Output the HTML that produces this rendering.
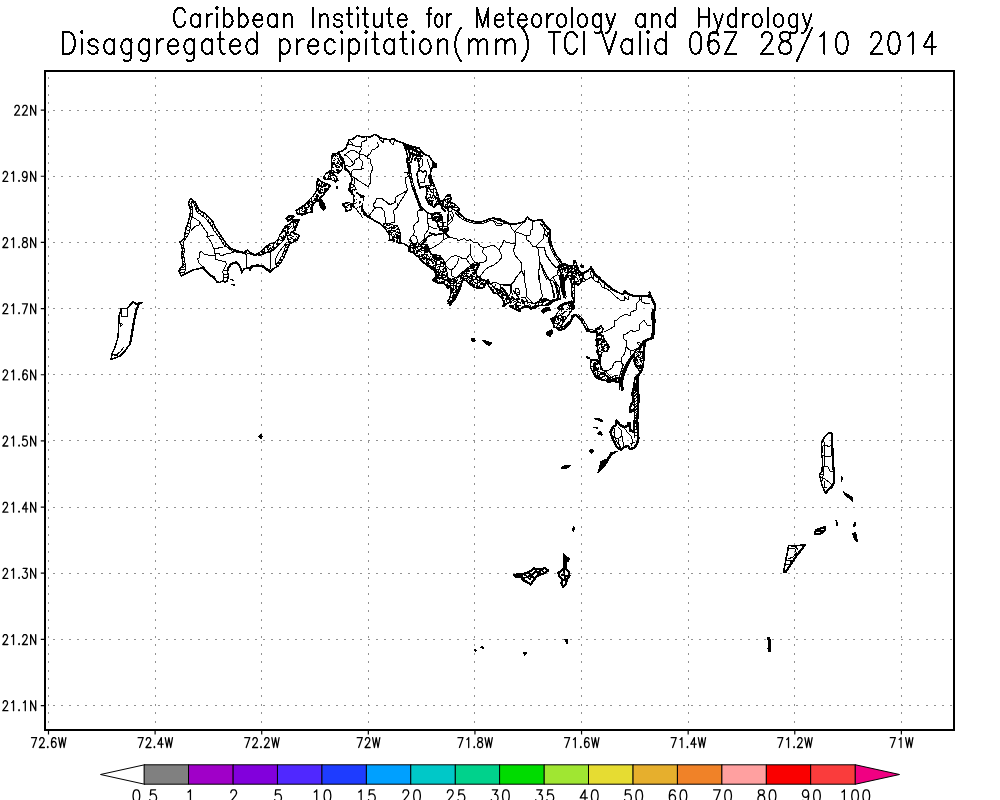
<!DOCTYPE html>
<html><head><meta charset="utf-8"><title>Disaggregated precipitation TCI</title>
<style>
html,body{margin:0;padding:0;background:#fff;font-family:"Liberation Sans",sans-serif;}
svg{display:block}
path,rect{fill:none;stroke:#000;stroke-linecap:round;stroke-linejoin:round}
.t1{stroke-width:2;shape-rendering:crispEdges}
.t2{stroke-width:2;shape-rendering:crispEdges}
.gh{stroke:#929292;stroke-width:1;stroke-linecap:butt;stroke-dasharray:2 6.08;shape-rendering:crispEdges}
.gv{stroke:#929292;stroke-width:1;stroke-linecap:butt;stroke-dasharray:2 6.47;shape-rendering:crispEdges}
.frame{stroke-width:2;stroke-linejoin:miter;shape-rendering:crispEdges}
.tick{stroke-width:1.2;stroke-linecap:butt}
.lab{stroke-width:1.3}
.cl{stroke-width:1.3}
.cbl{stroke-width:1}
.a,.b,.c,.d,.f{shape-rendering:crispEdges}
.a{stroke-width:1.5}
.c{stroke-width:1.6}
.d{stroke-width:2.3}
.f{stroke-width:1;fill:#000}
.w{stroke:none;fill:#fff;shape-rendering:crispEdges}
.b{stroke-width:1}
</style></head>
<body>
<svg width="1000" height="800" viewBox="0 0 1000 800">
<rect x="0" y="0" width="1000" height="800" style="fill:#fff;stroke:none"/>
<path d="M185.08 12.42 L184.34 10.61 L182.86 8.8 L181.39 7.89 L178.43 7.89 L176.95 8.8 L175.48 10.61 L174.74 12.42 L174 15.13 L174 19.66 L174.74 22.38 L175.48 24.18 L176.95 25.99 L178.43 26.9 L181.39 26.9 L182.86 25.99 L184.34 24.18 L185.08 22.38M199.66 14.23 L199.66 26.9M199.66 24.18 L198.18 25.99 L196.71 26.9 L194.49 26.9 L193.01 25.99 L191.54 24.18 L190.8 21.47 L190.8 19.66 L191.54 16.95 L193.01 15.13 L194.49 14.23 L196.71 14.23 L198.18 15.13 L199.66 16.95M206.6 14.23 L206.6 26.9M206.6 19.66 L207.34 16.95 L208.82 15.13 L210.29 14.23 L212.51 14.23M216.88 14.23 L216.88 26.9M216.88 8.8 L216.14 7.89 L216.88 6.99 L217.62 7.89 L216.88 8.8M223.65 7.89 L223.65 26.9M223.65 16.95 L225.13 15.13 L226.61 14.23 L228.82 14.23 L230.3 15.13 L231.78 16.95 L232.52 19.66 L232.52 21.47 L231.78 24.18 L230.3 25.99 L228.82 26.9 L226.61 26.9 L225.13 25.99 L223.65 24.18M238.91 7.89 L238.91 26.9M238.91 16.95 L240.39 15.13 L241.86 14.23 L244.08 14.23 L245.56 15.13 L247.04 16.95 L247.77 19.66 L247.77 21.47 L247.04 24.18 L245.56 25.99 L244.08 26.9 L241.86 26.9 L240.39 25.99 L238.91 24.18M260.78 15.13 L259.3 14.23 L257.09 14.23 L255.61 15.13 L254.13 16.95 L253.39 19.66 L262.26 19.66 L262.26 17.85 L261.52 16.04 L260.78 15.13M253.39 19.66 L253.39 21.47 L254.13 24.18 L255.61 25.99 L257.09 26.9 L259.3 26.9 L260.78 25.99 L262.26 24.18M276.74 14.23 L276.74 26.9M276.74 24.18 L275.27 25.99 L273.79 26.9 L271.57 26.9 L270.1 25.99 L268.62 24.18 L267.88 21.47 L267.88 19.66 L268.62 16.95 L270.1 15.13 L271.57 14.23 L273.79 14.23 L275.27 15.13 L276.74 16.95M283.87 14.23 L283.87 26.9M283.87 17.85 L286.09 15.13 L287.57 14.23 L289.78 14.23 L291.26 15.13 L292 17.85 L292 26.9M313 7.89 L313 26.9M319.71 14.23 L319.71 26.9M319.71 17.85 L321.91 15.13 L323.37 14.23 L325.57 14.23 L327.03 15.13 L327.77 17.85 L327.77 26.9M342.09 16.95 L341.36 15.13 L339.16 14.23 L336.96 14.23 L334.77 15.13 L334.04 16.95 L334.77 18.75 L336.23 19.66 L339.89 20.56 L341.36 21.47 L342.09 23.28 L342.09 24.18 L341.36 25.99 L339.16 26.9 L336.96 26.9 L334.77 25.99 L334.04 24.18M348.87 7.89 L348.87 23.28 L349.6 25.99 L351.06 26.9 L352.53 26.9M346.67 14.23 L351.79 14.23M357.55 14.23 L357.55 26.9M357.55 8.8 L356.82 7.89 L357.55 6.99 L358.29 7.89 L357.55 8.8M364.78 7.89 L364.78 23.28 L365.51 25.99 L366.97 26.9 L368.44 26.9M362.58 14.23 L367.71 14.23M381.87 14.23 L381.87 26.9M373.82 14.23 L373.82 23.28 L374.55 25.99 L376.01 26.9 L378.21 26.9 L379.67 25.99 L381.87 23.28M389.44 7.89 L389.44 23.28 L390.17 25.99 L391.64 26.9 L393.1 26.9M387.25 14.23 L392.37 14.23M405.04 15.13 L403.57 14.23 L401.38 14.23 L399.91 15.13 L398.45 16.95 L397.72 19.66 L406.5 19.66 L406.5 17.85 L405.77 16.04 L405.04 15.13M397.72 19.66 L397.72 21.47 L398.45 24.18 L399.91 25.99 L401.38 26.9 L403.57 26.9 L405.04 25.99 L406.5 24.18M431.48 7.89 L430.36 7.89 L429.24 8.8 L428.68 11.51 L428.68 26.9M427 14.23 L430.92 14.23M441.76 24.18 L440.64 25.99 L439.52 26.9 L437.84 26.9 L436.72 25.99 L435.6 24.18 L435.04 21.47 L435.04 19.66 L435.6 16.95 L436.72 15.13 L437.84 14.23 L439.52 14.23 L440.64 15.13 L441.76 16.95 L442.32 19.66 L442.32 21.47 L441.76 24.18M447.02 14.23 L447.02 26.9M447.02 19.66 L447.58 16.95 L448.7 15.13 L449.82 14.23 L451.5 14.23M477 26.9 L477 7.89 L482.71 26.9 L488.42 7.89 L488.42 26.9M501.86 15.13 L500.43 14.23 L498.29 14.23 L496.86 15.13 L495.43 16.95 L494.72 19.66 L503.28 19.66 L503.28 17.85 L502.57 16.04 L501.86 15.13M494.72 19.66 L494.72 21.47 L495.43 24.18 L496.86 25.99 L498.29 26.9 L500.43 26.9 L501.86 25.99 L503.28 24.18M509.93 7.89 L509.93 23.28 L510.64 25.99 L512.07 26.9 L513.49 26.9M507.78 14.23 L512.78 14.23M525.13 15.13 L523.7 14.23 L521.56 14.23 L520.13 15.13 L518.71 16.95 L517.99 19.66 L526.56 19.66 L526.56 17.85 L525.84 16.04 L525.13 15.13M517.99 19.66 L517.99 21.47 L518.71 24.18 L520.13 25.99 L521.56 26.9 L523.7 26.9 L525.13 25.99 L526.56 24.18M540.55 24.18 L539.13 25.99 L537.7 26.9 L535.56 26.9 L534.13 25.99 L532.7 24.18 L531.99 21.47 L531.99 19.66 L532.7 16.95 L534.13 15.13 L535.56 14.23 L537.7 14.23 L539.13 15.13 L540.55 16.95 L541.27 19.66 L541.27 21.47 L540.55 24.18M547.26 14.23 L547.26 26.9M547.26 19.66 L547.97 16.95 L549.4 15.13 L550.83 14.23 L552.97 14.23M565.38 24.18 L563.95 25.99 L562.52 26.9 L560.38 26.9 L558.96 25.99 L557.53 24.18 L556.81 21.47 L556.81 19.66 L557.53 16.95 L558.96 15.13 L560.38 14.23 L562.52 14.23 L563.95 15.13 L565.38 16.95 L566.09 19.66 L566.09 21.47 L565.38 24.18M571.93 7.89 L571.93 26.9M586.33 24.18 L584.9 25.99 L583.47 26.9 L581.33 26.9 L579.9 25.99 L578.48 24.18 L577.76 21.47 L577.76 19.66 L578.48 16.95 L579.9 15.13 L581.33 14.23 L583.47 14.23 L584.9 15.13 L586.33 16.95 L587.04 19.66 L587.04 21.47 L586.33 24.18M601.07 14.23 L601.07 28.71 L600.35 31.42 L599.64 32.33 L598.21 33.23 L596.07 33.23 L594.64 32.33M601.07 24.18 L599.64 25.99 L598.21 26.9 L596.07 26.9 L594.64 25.99 L593.22 24.18 L592.5 21.47 L592.5 19.66 L593.22 16.95 L594.64 15.13 L596.07 14.23 L598.21 14.23 L599.64 15.13 L601.07 16.95M606.44 14.23 L610.72 26.9 L615 14.23M605.72 33.23 L606.44 33.23 L607.86 32.33 L609.29 30.52 L610.72 26.9M644.78 14.23 L644.78 26.9M644.78 24.18 L643.32 25.99 L641.85 26.9 L639.66 26.9 L638.19 25.99 L636.73 24.18 L636 21.47 L636 19.66 L636.73 16.95 L638.19 15.13 L639.66 14.23 L641.85 14.23 L643.32 15.13 L644.78 16.95M651.84 14.23 L651.84 26.9M651.84 17.85 L654.04 15.13 L655.5 14.23 L657.69 14.23 L659.16 15.13 L659.89 17.85 L659.89 26.9M675 7.89 L675 26.9M675 24.18 L673.54 25.99 L672.07 26.9 L669.88 26.9 L668.42 25.99 L666.95 24.18 L666.22 21.47 L666.22 19.66 L666.95 16.95 L668.42 15.13 L669.88 14.23 L672.07 14.23 L673.54 15.13 L675 16.95M698.5 7.89 L698.5 26.9M708.61 7.89 L708.61 26.9M698.5 16.95 L708.61 16.95M714.14 14.23 L718.47 26.9 L722.8 14.23M713.41 33.23 L714.14 33.23 L715.58 32.33 L717.02 30.52 L718.47 26.9M736.18 7.89 L736.18 26.9M736.18 24.18 L734.73 25.99 L733.29 26.9 L731.12 26.9 L729.68 25.99 L728.23 24.18 L727.51 21.47 L727.51 19.66 L728.23 16.95 L729.68 15.13 L731.12 14.23 L733.29 14.23 L734.73 15.13 L736.18 16.95M742.96 14.23 L742.96 26.9M742.96 19.66 L743.68 16.95 L745.13 15.13 L746.57 14.23 L748.74 14.23M761.3 24.18 L759.85 25.99 L758.41 26.9 L756.24 26.9 L754.8 25.99 L753.35 24.18 L752.63 21.47 L752.63 19.66 L753.35 16.95 L754.8 15.13 L756.24 14.23 L758.41 14.23 L759.85 15.13 L761.3 16.95 L762.02 19.66 L762.02 21.47 L761.3 24.18M767.92 7.89 L767.92 26.9M782.49 24.18 L781.04 25.99 L779.6 26.9 L777.43 26.9 L775.99 25.99 L774.55 24.18 L773.82 21.47 L773.82 19.66 L774.55 16.95 L775.99 15.13 L777.43 14.23 L779.6 14.23 L781.04 15.13 L782.49 16.95 L783.21 19.66 L783.21 21.47 L782.49 24.18M797.4 14.23 L797.4 28.71 L796.68 31.42 L795.96 32.33 L794.51 33.23 L792.35 33.23 L790.9 32.33M797.4 24.18 L795.96 25.99 L794.51 26.9 L792.35 26.9 L790.9 25.99 L789.46 24.18 L788.74 21.47 L788.74 19.66 L789.46 16.95 L790.9 15.13 L792.35 14.23 L794.51 14.23 L795.96 15.13 L797.4 16.95M802.83 14.23 L807.17 26.9 L811.5 14.23M802.11 33.23 L802.83 33.23 L804.28 32.33 L805.72 30.52 L807.17 26.9" class="t1"/>
<path d="M74.75 40.37 L73.91 37.27 L73.07 35.21 L71.4 33.14 L68.88 32.11 L63 32.11 L63 53.8 L68.88 53.8 L71.4 52.77 L73.07 50.7 L73.91 48.63 L74.75 45.54 L74.75 40.37M81.69 39.34 L81.69 53.8M81.69 33.14 L80.85 32.11 L81.69 31.07 L82.53 32.11 L81.69 33.14M97.71 42.44 L96.87 40.37 L94.36 39.34 L91.84 39.34 L89.32 40.37 L88.48 42.44 L89.32 44.5 L91 45.54 L95.2 46.57 L96.87 47.6 L97.71 49.67 L97.71 50.7 L96.87 52.77 L94.36 53.8 L91.84 53.8 L89.32 52.77 L88.48 50.7M114.14 39.34 L114.14 53.8M114.14 50.7 L112.46 52.77 L110.78 53.8 L108.26 53.8 L106.58 52.77 L104.9 50.7 L104.07 47.6 L104.07 45.54 L104.9 42.44 L106.58 40.37 L108.26 39.34 L110.78 39.34 L112.46 40.37 L114.14 42.44M131.48 39.34 L131.48 55.87 L130.64 58.96 L129.8 60 L128.12 61.03 L125.6 61.03 L123.92 60M131.48 50.7 L129.8 52.77 L128.12 53.8 L125.6 53.8 L123.92 52.77 L122.24 50.7 L121.4 47.6 L121.4 45.54 L122.24 42.44 L123.92 40.37 L125.6 39.34 L128.12 39.34 L129.8 40.37 L131.48 42.44M148.82 39.34 L148.82 55.87 L147.98 58.96 L147.14 60 L145.46 61.03 L142.94 61.03 L141.26 60M148.82 50.7 L147.14 52.77 L145.46 53.8 L142.94 53.8 L141.26 52.77 L139.58 50.7 L138.74 47.6 L138.74 45.54 L139.58 42.44 L141.26 40.37 L142.94 39.34 L145.46 39.34 L147.14 40.37 L148.82 42.44M156.7 39.34 L156.7 53.8M156.7 45.54 L157.54 42.44 L159.22 40.37 L160.9 39.34 L163.42 39.34M176.3 40.37 L174.62 39.34 L172.11 39.34 L170.43 40.37 L168.75 42.44 L167.91 45.54 L177.98 45.54 L177.98 43.47 L177.14 41.4 L176.3 40.37M167.91 45.54 L167.91 47.6 L168.75 50.7 L170.43 52.77 L172.11 53.8 L174.62 53.8 L176.3 52.77 L177.98 50.7M194.45 39.34 L194.45 55.87 L193.61 58.96 L192.77 60 L191.09 61.03 L188.57 61.03 L186.89 60M194.45 50.7 L192.77 52.77 L191.09 53.8 L188.57 53.8 L186.89 52.77 L185.21 50.7 L184.37 47.6 L184.37 45.54 L185.21 42.44 L186.89 40.37 L188.57 39.34 L191.09 39.34 L192.77 40.37 L194.45 42.44M211.78 39.34 L211.78 53.8M211.78 50.7 L210.11 52.77 L208.43 53.8 L205.91 53.8 L204.23 52.77 L202.55 50.7 L201.71 47.6 L201.71 45.54 L202.55 42.44 L204.23 40.37 L205.91 39.34 L208.43 39.34 L210.11 40.37 L211.78 42.44M220.47 32.11 L220.47 49.67 L221.31 52.77 L222.99 53.8 L224.67 53.8M217.95 39.34 L223.83 39.34M238.36 40.37 L236.68 39.34 L234.16 39.34 L232.48 40.37 L230.8 42.44 L229.96 45.54 L240.04 45.54 L240.04 43.47 L239.2 41.4 L238.36 40.37M229.96 45.54 L229.96 47.6 L230.8 50.7 L232.48 52.77 L234.16 53.8 L236.68 53.8 L238.36 52.77 L240.04 50.7M256.5 32.11 L256.5 53.8M256.5 50.7 L254.82 52.77 L253.14 53.8 L250.62 53.8 L248.94 52.77 L247.26 50.7 L246.43 47.6 L246.43 45.54 L247.26 42.44 L248.94 40.37 L250.62 39.34 L253.14 39.34 L254.82 40.37 L256.5 42.44M279.75 39.34 L279.75 61.03M279.75 42.44 L281.43 40.37 L283.12 39.34 L285.64 39.34 L287.33 40.37 L289.01 42.44 L289.85 45.54 L289.85 47.6 L289.01 50.7 L287.33 52.77 L285.64 53.8 L283.12 53.8 L281.43 52.77 L279.75 50.7M296.91 39.34 L296.91 53.8M296.91 45.54 L297.76 42.44 L299.44 40.37 L301.12 39.34 L303.65 39.34M316.57 40.37 L314.88 39.34 L312.36 39.34 L310.68 40.37 L308.99 42.44 L308.15 45.54 L318.25 45.54 L318.25 43.47 L317.41 41.4 L316.57 40.37M308.15 45.54 L308.15 47.6 L308.99 50.7 L310.68 52.77 L312.36 53.8 L314.88 53.8 L316.57 52.77 L318.25 50.7M334.72 50.7 L333.04 52.77 L331.35 53.8 L328.83 53.8 L327.15 52.77 L325.46 50.7 L324.62 47.6 L324.62 45.54 L325.46 42.44 L327.15 40.37 L328.83 39.34 L331.35 39.34 L333.04 40.37 L334.72 42.44M341.57 39.34 L341.57 53.8M341.57 33.14 L340.72 32.11 L341.57 31.07 L342.41 32.11 L341.57 33.14M349.29 39.34 L349.29 61.03M349.29 42.44 L350.97 40.37 L352.65 39.34 L355.18 39.34 L356.86 40.37 L358.55 42.44 L359.39 45.54 L359.39 47.6 L358.55 50.7 L356.86 52.77 L355.18 53.8 L352.65 53.8 L350.97 52.77 L349.29 50.7M366.27 39.34 L366.27 53.8M366.27 33.14 L365.43 32.11 L366.27 31.07 L367.11 32.11 L366.27 33.14M374.58 32.11 L374.58 49.67 L375.42 52.77 L377.1 53.8 L378.79 53.8M372.05 39.34 L377.94 39.34M394.23 39.34 L394.23 53.8M394.23 50.7 L392.55 52.77 L390.86 53.8 L388.34 53.8 L386.66 52.77 L384.97 50.7 L384.13 47.6 L384.13 45.54 L384.97 42.44 L386.66 40.37 L388.34 39.34 L390.86 39.34 L392.55 40.37 L394.23 42.44M402.94 32.11 L402.94 49.67 L403.78 52.77 L405.47 53.8 L407.15 53.8M400.42 39.34 L406.31 39.34M412.93 39.34 L412.93 53.8M412.93 33.14 L412.09 32.11 L412.93 31.07 L413.77 32.11 L412.93 33.14M429.92 50.7 L428.23 52.77 L426.55 53.8 L424.02 53.8 L422.34 52.77 L420.66 50.7 L419.81 47.6 L419.81 45.54 L420.66 42.44 L422.34 40.37 L424.02 39.34 L426.55 39.34 L428.23 40.37 L429.92 42.44 L430.76 45.54 L430.76 47.6 L429.92 50.7M438.04 39.34 L438.04 53.8M438.04 43.47 L440.57 40.37 L442.25 39.34 L444.77 39.34 L446.46 40.37 L447.3 43.47 L447.3 53.8M461.13 61.03 L459.45 58.96 L457.77 55.87 L456.08 51.73 L455.24 46.57 L455.24 42.44 L456.08 37.27 L457.77 33.14 L459.45 30.04 L461.13 27.97M468.64 39.34 L468.64 53.8M487.16 53.8 L487.16 43.47 L486.31 40.37 L484.63 39.34 L482.11 39.34 L480.42 40.37 L477.9 43.47 L477.9 53.8M468.64 43.47 L471.16 40.37 L472.85 39.34 L475.37 39.34 L477.05 40.37 L477.9 43.47M496.09 39.34 L496.09 53.8M514.6 53.8 L514.6 43.47 L513.76 40.37 L512.08 39.34 L509.55 39.34 L507.87 40.37 L505.35 43.47 L505.35 53.8M496.09 43.47 L498.61 40.37 L500.29 39.34 L502.82 39.34 L504.5 40.37 L505.35 43.47M522.11 27.97 L523.79 30.04 L525.47 33.14 L527.16 37.27 L528 42.44 L528 46.57 L527.16 51.73 L525.47 55.87 L523.79 58.96 L522.11 61.03M554.3 32.11 L554.3 53.8M548.5 32.11 L560.09 32.11M577.16 37.27 L576.33 35.21 L574.67 33.14 L573.02 32.11 L569.71 32.11 L568.05 33.14 L566.39 35.21 L565.57 37.27 L564.74 40.37 L564.74 45.54 L565.57 48.63 L566.39 50.7 L568.05 52.77 L569.71 53.8 L573.02 53.8 L574.67 52.77 L576.33 50.7 L577.16 48.63M584 32.11 L584 53.8M602 32.11 L609.15 53.8 L616.29 32.11M632.02 39.34 L632.02 53.8M632.02 50.7 L630.23 52.77 L628.45 53.8 L625.77 53.8 L623.98 52.77 L622.19 50.7 L621.3 47.6 L621.3 45.54 L622.19 42.44 L623.98 40.37 L625.77 39.34 L628.45 39.34 L630.23 40.37 L632.02 42.44M640.21 32.11 L640.21 53.8M647.98 39.34 L647.98 53.8M647.98 33.14 L647.09 32.11 L647.98 31.07 L648.87 32.11 L647.98 33.14M666 32.11 L666 53.8M666 50.7 L664.21 52.77 L662.43 53.8 L659.75 53.8 L657.96 52.77 L656.17 50.7 L655.28 47.6 L655.28 45.54 L656.17 42.44 L657.96 40.37 L659.75 39.34 L662.43 39.34 L664.21 40.37 L666 42.44M700.52 49.67 L698.9 52.77 L696.47 53.8 L694.85 53.8 L692.43 52.77 L690.81 49.67 L690 44.5 L690 41.4 L690.81 36.24 L692.43 33.14 L694.85 32.11 L696.47 32.11 L698.9 33.14 L700.52 36.24 L701.33 41.4 L701.33 44.5 L700.52 49.67M708.4 46.57 L709.2 43.47 L710.82 41.4 L713.25 40.37 L714.06 40.37 L716.49 41.4 L718.1 43.47 L718.91 46.57 L718.91 47.6 L718.1 50.7 L716.49 52.77 L714.06 53.8 L713.25 53.8 L710.82 52.77 L709.2 50.7 L708.4 46.57 L708.4 41.4 L709.2 36.24 L710.82 33.14 L713.25 32.11 L714.87 32.11 L717.3 33.14 L718.1 35.21M736.5 53.8 L725.17 53.8 L736.5 32.11 L725.17 32.11M772.78 53.8 L761 53.8 L769.41 43.47 L771.09 40.37 L771.94 38.3 L771.94 36.24 L771.09 34.17 L770.25 33.14 L768.57 32.11 L765.21 32.11 L763.52 33.14 L762.68 34.17 L761.84 36.24 L761.84 37.27M784.33 41.4 L787.7 40.37 L789.38 39.34 L790.22 37.27 L790.22 35.21 L789.38 33.14 L786.86 32.11 L783.49 32.11 L780.97 33.14 L780.13 35.21 L780.13 37.27 L780.97 39.34 L782.65 40.37 L786.02 41.4 L788.54 42.44 L790.22 44.5 L791.06 46.57 L791.06 49.67 L790.22 51.73 L789.38 52.77 L786.86 53.8 L783.49 53.8 L780.97 52.77 L780.13 51.73 L779.29 49.67 L779.29 46.57 L780.13 44.5 L781.81 42.44 L784.33 41.4M796.8 61.03 L811.95 27.97M820.21 36.24 L821.89 35.21 L824.42 32.11 L824.42 53.8M846.91 49.67 L845.23 52.77 L842.7 53.8 L841.02 53.8 L838.5 52.77 L836.81 49.67 L835.97 44.5 L835.97 41.4 L836.81 36.24 L838.5 33.14 L841.02 32.11 L842.7 32.11 L845.23 33.14 L846.91 36.24 L847.75 41.4 L847.75 44.5 L846.91 49.67M881.93 53.8 L870.5 53.8 L878.67 43.47 L880.3 40.37 L881.11 38.3 L881.11 36.24 L880.3 34.17 L879.48 33.14 L877.85 32.11 L874.58 32.11 L872.95 33.14 L872.13 34.17 L871.32 36.24 L871.32 37.27M898.87 49.67 L897.23 52.77 L894.78 53.8 L893.15 53.8 L890.7 52.77 L889.07 49.67 L888.25 44.5 L888.25 41.4 L889.07 36.24 L890.7 33.14 L893.15 32.11 L894.78 32.11 L897.23 33.14 L898.87 36.24 L899.68 41.4 L899.68 44.5 L898.87 49.67M908.45 36.24 L910.08 35.21 L912.53 32.11 L912.53 53.8M936 46.57 L923.75 46.57 L931.92 32.11 L931.92 53.8" class="t2"/>
<path d="M48.50 722.53V72.00M155.11 722.53V72.00M261.72 722.53V72.00M368.33 722.53V72.00M474.94 722.53V72.00M581.55 722.53V72.00M688.16 722.53V72.00M794.77 722.53V72.00M901.38 722.53V72.00" class="gv"/>
<path d="M52.9 110.10H953.00M52.9 176.26H953.00M52.9 242.42H953.00M52.9 308.58H953.00M52.9 374.74H953.00M52.9 440.90H953.00M52.9 507.06H953.00M52.9 573.22H953.00M52.9 639.38H953.00M52.9 705.54H953.00" class="gh"/>
<rect x="45.0" y="71.0" width="909.0" height="659.0" class="frame"/>
<path d="M48.50 731.0V734.5M155.11 731.0V734.5M261.72 731.0V734.5M368.33 731.0V734.5M474.94 731.0V734.5M581.55 731.0V734.5M688.16 731.0V734.5M794.77 731.0V734.5M901.38 731.0V734.5M44.0 110.10H40.8M44.0 176.26H40.8M44.0 242.42H40.8M44.0 308.58H40.8M44.0 374.74H40.8M44.0 440.90H40.8M44.0 507.06H40.8M44.0 573.22H40.8M44.0 639.38H40.8M44.0 705.54H40.8" class="tick"/>
<path d="M32.97 747.5 L36.57 737.63 L31.52 737.63M44.41 747.5 L39.36 747.5 L42.97 742.8 L43.69 741.39 L44.05 740.45 L44.05 739.51 L43.69 738.57 L43.33 738.1 L42.61 737.63 L41.17 737.63 L40.44 738.1 L40.08 738.57 L39.72 739.51 L39.72 739.98M47.77 747.5 L47.41 747.03 L47.77 746.56 L48.13 747.03 L47.77 747.5M51.48 744.21 L51.84 742.8 L52.57 741.86 L53.65 741.39 L54.01 741.39 L55.09 741.86 L55.81 742.8 L56.17 744.21 L56.17 744.68 L55.81 746.09 L55.09 747.03 L54.01 747.5 L53.65 747.5 L52.57 747.03 L51.84 746.09 L51.48 744.21 L51.48 741.86 L51.84 739.51 L52.57 738.1 L53.65 737.63 L54.37 737.63 L55.45 738.1 L55.81 739.04M58.66 737.63 L60.47 747.5 L62.27 737.63 L64.07 747.5 L65.88 737.63M139.58 747.5 L143.18 737.63 L138.13 737.63M151.02 747.5 L145.97 747.5 L149.58 742.8 L150.3 741.39 L150.66 740.45 L150.66 739.51 L150.3 738.57 L149.94 738.1 L149.22 737.63 L147.78 737.63 L147.05 738.1 L146.69 738.57 L146.33 739.51 L146.33 739.98M154.38 747.5 L154.02 747.03 L154.38 746.56 L154.74 747.03 L154.38 747.5M163.14 744.21 L157.73 744.21 L161.34 737.63 L161.34 747.5M165.27 737.63 L167.08 747.5 L168.88 737.63 L170.68 747.5 L172.49 737.63M246.19 747.5 L249.79 737.63 L244.74 737.63M257.63 747.5 L252.58 747.5 L256.19 742.8 L256.91 741.39 L257.27 740.45 L257.27 739.51 L256.91 738.57 L256.55 738.1 L255.83 737.63 L254.39 737.63 L253.66 738.1 L253.3 738.57 L252.94 739.51 L252.94 739.98M260.99 747.5 L260.63 747.03 L260.99 746.56 L261.35 747.03 L260.99 747.5M269.39 747.5 L264.34 747.5 L267.95 742.8 L268.67 741.39 L269.03 740.45 L269.03 739.51 L268.67 738.57 L268.31 738.1 L267.59 737.63 L266.15 737.63 L265.42 738.1 L265.06 738.57 L264.7 739.51 L264.7 739.98M271.88 737.63 L273.69 747.5 L275.49 737.63 L277.29 747.5 L279.1 737.63M358.68 747.5 L362.28 737.63 L357.23 737.63M370.12 747.5 L365.07 747.5 L368.68 742.8 L369.4 741.39 L369.76 740.45 L369.76 739.51 L369.4 738.57 L369.04 738.1 L368.32 737.63 L366.88 737.63 L366.15 738.1 L365.79 738.57 L365.43 739.51 L365.43 739.98M372.61 737.63 L374.42 747.5 L376.22 737.63 L378.02 747.5 L379.83 737.63M459.41 747.5 L463.01 737.63 L457.96 737.63M466.88 739.51 L467.61 739.04 L468.69 737.63 L468.69 747.5M474.21 747.5 L473.85 747.03 L474.21 746.56 L474.57 747.03 L474.21 747.5M479.73 741.86 L481.17 741.39 L481.89 740.92 L482.25 739.98 L482.25 739.04 L481.89 738.1 L480.81 737.63 L479.37 737.63 L478.28 738.1 L477.92 739.04 L477.92 739.98 L478.28 740.92 L479.01 741.39 L480.45 741.86 L481.53 742.33 L482.25 743.27 L482.61 744.21 L482.61 745.62 L482.25 746.56 L481.89 747.03 L480.81 747.5 L479.37 747.5 L478.28 747.03 L477.92 746.56 L477.56 745.62 L477.56 744.21 L477.92 743.27 L478.64 742.33 L479.73 741.86M485.1 737.63 L486.91 747.5 L488.71 737.63 L490.51 747.5 L492.32 737.63M566.02 747.5 L569.62 737.63 L564.57 737.63M573.49 739.51 L574.22 739.04 L575.3 737.63 L575.3 747.5M580.82 747.5 L580.46 747.03 L580.82 746.56 L581.18 747.03 L580.82 747.5M584.53 744.21 L584.89 742.8 L585.62 741.86 L586.7 741.39 L587.06 741.39 L588.14 741.86 L588.86 742.8 L589.22 744.21 L589.22 744.68 L588.86 746.09 L588.14 747.03 L587.06 747.5 L586.7 747.5 L585.62 747.03 L584.89 746.09 L584.53 744.21 L584.53 741.86 L584.89 739.51 L585.62 738.1 L586.7 737.63 L587.42 737.63 L588.5 738.1 L588.86 739.04M591.71 737.63 L593.52 747.5 L595.32 737.63 L597.12 747.5 L598.93 737.63M672.63 747.5 L676.23 737.63 L671.18 737.63M680.1 739.51 L680.83 739.04 L681.91 737.63 L681.91 747.5M687.43 747.5 L687.07 747.03 L687.43 746.56 L687.79 747.03 L687.43 747.5M696.19 744.21 L690.78 744.21 L694.39 737.63 L694.39 747.5M698.32 737.63 L700.13 747.5 L701.93 737.63 L703.73 747.5 L705.54 737.63M779.24 747.5 L782.84 737.63 L777.79 737.63M786.71 739.51 L787.44 739.04 L788.52 737.63 L788.52 747.5M794.04 747.5 L793.68 747.03 L794.04 746.56 L794.4 747.03 L794.04 747.5M802.44 747.5 L797.39 747.5 L801 742.8 L801.72 741.39 L802.08 740.45 L802.08 739.51 L801.72 738.57 L801.36 738.1 L800.64 737.63 L799.2 737.63 L798.47 738.1 L798.11 738.57 L797.75 739.51 L797.75 739.98M804.93 737.63 L806.74 747.5 L808.54 737.63 L810.34 747.5 L812.15 737.63M891.73 747.5 L895.33 737.63 L890.28 737.63M899.2 739.51 L899.93 739.04 L901.01 737.63 L901.01 747.5M905.66 737.63 L907.47 747.5 L909.27 737.63 L911.07 747.5 L912.88 737.63M19.63 115.2 L14.58 115.2 L18.19 110.5 L18.91 109.09 L19.27 108.15 L19.27 107.21 L18.91 106.27 L18.55 105.8 L17.82 105.33 L16.38 105.33 L15.66 105.8 L15.3 106.27 L14.94 107.21 L14.94 107.68M27.47 115.2 L22.42 115.2 L26.03 110.5 L26.75 109.09 L27.11 108.15 L27.11 107.21 L26.75 106.27 L26.39 105.8 L25.66 105.33 L24.22 105.33 L23.5 105.8 L23.14 106.27 L22.78 107.21 L22.78 107.68M30.65 115.2 L30.65 105.33 L35.7 115.2 L35.7 105.33M7.87 181.36 L2.82 181.36 L6.43 176.66 L7.15 175.25 L7.51 174.31 L7.51 173.37 L7.15 172.43 L6.79 171.96 L6.06 171.49 L4.62 171.49 L3.9 171.96 L3.54 172.43 L3.18 173.37 L3.18 173.84M11.74 173.37 L12.46 172.9 L13.54 171.49 L13.54 181.36M19.06 181.36 L18.7 180.89 L19.06 180.42 L19.42 180.89 L19.06 181.36M22.78 179.95 L23.14 180.89 L24.22 181.36 L24.94 181.36 L26.03 180.89 L26.75 179.48 L27.11 177.13 L27.11 174.78 L26.75 172.9 L26.03 171.96 L24.94 171.49 L24.58 171.49 L23.5 171.96 L22.78 172.9 L22.42 174.31 L22.42 174.78 L22.78 176.19 L23.5 177.13 L24.58 177.6 L24.94 177.6 L26.03 177.13 L26.75 176.19 L27.11 174.78M30.65 181.36 L30.65 171.49 L35.7 181.36 L35.7 171.49M7.87 247.52 L2.82 247.52 L6.43 242.82 L7.15 241.41 L7.51 240.47 L7.51 239.53 L7.15 238.59 L6.79 238.12 L6.06 237.65 L4.62 237.65 L3.9 238.12 L3.54 238.59 L3.18 239.53 L3.18 240M11.74 239.53 L12.46 239.06 L13.54 237.65 L13.54 247.52M19.06 247.52 L18.7 247.05 L19.06 246.58 L19.42 247.05 L19.06 247.52M24.58 241.88 L26.03 241.41 L26.75 240.94 L27.11 240 L27.11 239.06 L26.75 238.12 L25.66 237.65 L24.22 237.65 L23.14 238.12 L22.78 239.06 L22.78 240 L23.14 240.94 L23.86 241.41 L25.3 241.88 L26.39 242.35 L27.11 243.29 L27.47 244.23 L27.47 245.64 L27.11 246.58 L26.75 247.05 L25.66 247.52 L24.22 247.52 L23.14 247.05 L22.78 246.58 L22.42 245.64 L22.42 244.23 L22.78 243.29 L23.5 242.35 L24.58 241.88M30.65 247.52 L30.65 237.65 L35.7 247.52 L35.7 237.65M7.87 313.68 L2.82 313.68 L6.43 308.98 L7.15 307.57 L7.51 306.63 L7.51 305.69 L7.15 304.75 L6.79 304.28 L6.06 303.81 L4.62 303.81 L3.9 304.28 L3.54 304.75 L3.18 305.69 L3.18 306.16M11.74 305.69 L12.46 305.22 L13.54 303.81 L13.54 313.68M19.06 313.68 L18.7 313.21 L19.06 312.74 L19.42 313.21 L19.06 313.68M23.86 313.68 L27.47 303.81 L22.42 303.81M30.65 313.68 L30.65 303.81 L35.7 313.68 L35.7 303.81M7.87 379.84 L2.82 379.84 L6.43 375.14 L7.15 373.73 L7.51 372.79 L7.51 371.85 L7.15 370.91 L6.79 370.44 L6.06 369.97 L4.62 369.97 L3.9 370.44 L3.54 370.91 L3.18 371.85 L3.18 372.32M11.74 371.85 L12.46 371.38 L13.54 369.97 L13.54 379.84M19.06 379.84 L18.7 379.37 L19.06 378.9 L19.42 379.37 L19.06 379.84M22.78 376.55 L23.14 375.14 L23.86 374.2 L24.94 373.73 L25.3 373.73 L26.39 374.2 L27.11 375.14 L27.47 376.55 L27.47 377.02 L27.11 378.43 L26.39 379.37 L25.3 379.84 L24.94 379.84 L23.86 379.37 L23.14 378.43 L22.78 376.55 L22.78 374.2 L23.14 371.85 L23.86 370.44 L24.94 369.97 L25.66 369.97 L26.75 370.44 L27.11 371.38M30.65 379.84 L30.65 369.97 L35.7 379.84 L35.7 369.97M7.87 446 L2.82 446 L6.43 441.3 L7.15 439.89 L7.51 438.95 L7.51 438.01 L7.15 437.07 L6.79 436.6 L6.06 436.13 L4.62 436.13 L3.9 436.6 L3.54 437.07 L3.18 438.01 L3.18 438.48M11.74 438.01 L12.46 437.54 L13.54 436.13 L13.54 446M19.06 446 L18.7 445.53 L19.06 445.06 L19.42 445.53 L19.06 446M22.42 444.12 L22.78 445.06 L23.14 445.53 L24.22 446 L25.3 446 L26.39 445.53 L27.11 444.59 L27.47 443.18 L27.47 442.24 L27.11 440.83 L26.39 439.89 L25.3 439.42 L24.22 439.42 L23.14 439.89 L22.78 440.36 L23.14 436.13 L26.75 436.13M30.65 446 L30.65 436.13 L35.7 446 L35.7 436.13M7.87 512.16 L2.82 512.16 L6.43 507.46 L7.15 506.05 L7.51 505.11 L7.51 504.17 L7.15 503.23 L6.79 502.76 L6.06 502.29 L4.62 502.29 L3.9 502.76 L3.54 503.23 L3.18 504.17 L3.18 504.64M11.74 504.17 L12.46 503.7 L13.54 502.29 L13.54 512.16M19.06 512.16 L18.7 511.69 L19.06 511.22 L19.42 511.69 L19.06 512.16M27.83 508.87 L22.42 508.87 L26.03 502.29 L26.03 512.16M30.65 512.16 L30.65 502.29 L35.7 512.16 L35.7 502.29M7.87 578.32 L2.82 578.32 L6.43 573.62 L7.15 572.21 L7.51 571.27 L7.51 570.33 L7.15 569.39 L6.79 568.92 L6.06 568.45 L4.62 568.45 L3.9 568.92 L3.54 569.39 L3.18 570.33 L3.18 570.8M11.74 570.33 L12.46 569.86 L13.54 568.45 L13.54 578.32M19.06 578.32 L18.7 577.85 L19.06 577.38 L19.42 577.85 L19.06 578.32M23.14 568.45 L27.11 568.45 L24.94 572.21 L26.03 572.21 L26.75 572.68 L27.11 573.15 L27.47 574.56 L27.47 575.5 L27.11 576.91 L26.39 577.85 L25.3 578.32 L24.22 578.32 L23.14 577.85 L22.78 577.38 L22.42 576.44M30.65 578.32 L30.65 568.45 L35.7 578.32 L35.7 568.45M7.87 644.48 L2.82 644.48 L6.43 639.78 L7.15 638.37 L7.51 637.43 L7.51 636.49 L7.15 635.55 L6.79 635.08 L6.06 634.61 L4.62 634.61 L3.9 635.08 L3.54 635.55 L3.18 636.49 L3.18 636.96M11.74 636.49 L12.46 636.02 L13.54 634.61 L13.54 644.48M19.06 644.48 L18.7 644.01 L19.06 643.54 L19.42 644.01 L19.06 644.48M27.47 644.48 L22.42 644.48 L26.03 639.78 L26.75 638.37 L27.11 637.43 L27.11 636.49 L26.75 635.55 L26.39 635.08 L25.66 634.61 L24.22 634.61 L23.5 635.08 L23.14 635.55 L22.78 636.49 L22.78 636.96M30.65 644.48 L30.65 634.61 L35.7 644.48 L35.7 634.61M7.87 710.64 L2.82 710.64 L6.43 705.94 L7.15 704.53 L7.51 703.59 L7.51 702.65 L7.15 701.71 L6.79 701.24 L6.06 700.77 L4.62 700.77 L3.9 701.24 L3.54 701.71 L3.18 702.65 L3.18 703.12M11.74 702.65 L12.46 702.18 L13.54 700.77 L13.54 710.64M19.06 710.64 L18.7 710.17 L19.06 709.7 L19.42 710.17 L19.06 710.64M23.5 702.65 L24.22 702.18 L25.3 700.77 L25.3 710.64M30.65 710.64 L30.65 700.77 L35.7 710.64 L35.7 700.77" class="lab"/>
<path d="M144.5 764.8L100.5 774.5L144.5 784.2Z" style="fill:#fff" class="cbl"/><rect x="144.50" y="764.8" width="44.44" height="19.40000000000009" style="fill:#808080" class="cbl"/><rect x="188.94" y="764.8" width="44.44" height="19.40000000000009" style="fill:#a000c8" class="cbl"/><rect x="233.38" y="764.8" width="44.44" height="19.40000000000009" style="fill:#8200dc" class="cbl"/><rect x="277.81" y="764.8" width="44.44" height="19.40000000000009" style="fill:#5028ff" class="cbl"/><rect x="322.25" y="764.8" width="44.44" height="19.40000000000009" style="fill:#1e3cff" class="cbl"/><rect x="366.69" y="764.8" width="44.44" height="19.40000000000009" style="fill:#00a0ff" class="cbl"/><rect x="411.12" y="764.8" width="44.44" height="19.40000000000009" style="fill:#00c8c8" class="cbl"/><rect x="455.56" y="764.8" width="44.44" height="19.40000000000009" style="fill:#00d28c" class="cbl"/><rect x="500.00" y="764.8" width="44.44" height="19.40000000000009" style="fill:#00dc00" class="cbl"/><rect x="544.44" y="764.8" width="44.44" height="19.40000000000009" style="fill:#a0e632" class="cbl"/><rect x="588.88" y="764.8" width="44.44" height="19.40000000000009" style="fill:#e6dc32" class="cbl"/><rect x="633.31" y="764.8" width="44.44" height="19.40000000000009" style="fill:#e6af2d" class="cbl"/><rect x="677.75" y="764.8" width="44.44" height="19.40000000000009" style="fill:#f08228" class="cbl"/><rect x="722.19" y="764.8" width="44.44" height="19.40000000000009" style="fill:#ffa0a0" class="cbl"/><rect x="766.62" y="764.8" width="44.44" height="19.40000000000009" style="fill:#fa0000" class="cbl"/><rect x="811.06" y="764.8" width="44.44" height="19.40000000000009" style="fill:#fa3c3c" class="cbl"/><path d="M855.5 764.8L899.5 774.5L855.5 784.2Z" style="fill:#f00082" class="cbl"/>
<path d="M139.26 799.68 L138.3 801.42 L136.88 802 L135.92 802 L134.5 801.42 L133.54 799.68 L133.07 796.78 L133.07 795.04 L133.54 792.14 L134.5 790.4 L135.92 789.82 L136.88 789.82 L138.3 790.4 L139.26 792.14 L139.73 795.04 L139.73 796.78 L139.26 799.68M144.8 802 L144.32 801.42 L144.8 800.84 L145.28 801.42 L144.8 802M149.87 799.68 L150.34 800.84 L150.82 801.42 L152.25 802 L153.68 802 L155.1 801.42 L156.06 800.26 L156.53 798.52 L156.53 797.36 L156.06 795.62 L155.1 794.46 L153.68 793.88 L152.25 793.88 L150.82 794.46 L150.34 795.04 L150.82 789.82 L155.58 789.82M188.05 792.14 L189 791.56 L190.43 789.82 L190.43 802M237.01 802 L230.34 802 L235.1 796.2 L236.06 794.46 L236.53 793.3 L236.53 792.14 L236.06 790.98 L235.58 790.4 L234.63 789.82 L232.72 789.82 L231.77 790.4 L231.3 790.98 L230.82 792.14 L230.82 792.72M274.78 799.68 L275.26 800.84 L275.73 801.42 L277.16 802 L278.59 802 L280.02 801.42 L280.97 800.26 L281.44 798.52 L281.44 797.36 L280.97 795.62 L280.02 794.46 L278.59 793.88 L277.16 793.88 L275.73 794.46 L275.26 795.04 L275.73 789.82 L280.49 789.82M314.33 792.14 L315.28 791.56 L316.71 789.82 L316.71 802M330.29 799.68 L329.34 801.42 L327.91 802 L326.96 802 L325.53 801.42 L324.58 799.68 L324.1 796.78 L324.1 795.04 L324.58 792.14 L325.53 790.4 L326.96 789.82 L327.91 789.82 L329.34 790.4 L330.29 792.14 L330.77 795.04 L330.77 796.78 L330.29 799.68M358.77 792.14 L359.72 791.56 L361.15 789.82 L361.15 802M368.54 799.68 L369.02 800.84 L369.49 801.42 L370.92 802 L372.35 802 L373.78 801.42 L374.73 800.26 L375.21 798.52 L375.21 797.36 L374.73 795.62 L373.78 794.46 L372.35 793.88 L370.92 793.88 L369.49 794.46 L369.02 795.04 L369.49 789.82 L374.25 789.82M409.16 802 L402.49 802 L407.25 796.2 L408.21 794.46 L408.68 793.3 L408.68 792.14 L408.21 790.98 L407.73 790.4 L406.78 789.82 L404.87 789.82 L403.92 790.4 L403.45 790.98 L402.97 792.14 L402.97 792.72M419.88 799.68 L418.93 801.42 L417.5 802 L416.55 802 L415.12 801.42 L414.17 799.68 L413.69 796.78 L413.69 795.04 L414.17 792.14 L415.12 790.4 L416.55 789.82 L417.5 789.82 L418.93 790.4 L419.88 792.14 L420.36 795.04 L420.36 796.78 L419.88 799.68M453.59 802 L446.93 802 L451.69 796.2 L452.64 794.46 L453.12 793.3 L453.12 792.14 L452.64 790.98 L452.17 790.4 L451.21 789.82 L449.31 789.82 L448.36 790.4 L447.88 790.98 L447.41 792.14 L447.41 792.72M458.13 799.68 L458.61 800.84 L459.08 801.42 L460.51 802 L461.94 802 L463.37 801.42 L464.32 800.26 L464.79 798.52 L464.79 797.36 L464.32 795.62 L463.37 794.46 L461.94 793.88 L460.51 793.88 L459.08 794.46 L458.61 795.04 L459.08 789.82 L463.84 789.82M492.32 789.82 L497.56 789.82 L494.7 794.46 L496.13 794.46 L497.08 795.04 L497.56 795.62 L498.03 797.36 L498.03 798.52 L497.56 800.26 L496.6 801.42 L495.18 802 L493.75 802 L492.32 801.42 L491.84 800.84 L491.37 799.68M508.76 799.68 L507.8 801.42 L506.38 802 L505.42 802 L504 801.42 L503.04 799.68 L502.57 796.78 L502.57 795.04 L503.04 792.14 L504 790.4 L505.42 789.82 L506.38 789.82 L507.8 790.4 L508.76 792.14 L509.23 795.04 L509.23 796.78 L508.76 799.68M536.76 789.82 L541.99 789.82 L539.14 794.46 L540.57 794.46 L541.52 795.04 L541.99 795.62 L542.47 797.36 L542.47 798.52 L541.99 800.26 L541.04 801.42 L539.61 802 L538.19 802 L536.76 801.42 L536.28 800.84 L535.81 799.68M547.01 799.68 L547.48 800.84 L547.96 801.42 L549.39 802 L550.81 802 L552.24 801.42 L553.19 800.26 L553.67 798.52 L553.67 797.36 L553.19 795.62 L552.24 794.46 L550.81 793.88 L549.39 793.88 L547.96 794.46 L547.48 795.04 L547.96 789.82 L552.72 789.82M587.38 797.94 L580.24 797.94 L585 789.82 L585 802M597.63 799.68 L596.68 801.42 L595.25 802 L594.3 802 L592.87 801.42 L591.92 799.68 L591.44 796.78 L591.44 795.04 L591.92 792.14 L592.87 790.4 L594.3 789.82 L595.25 789.82 L596.68 790.4 L597.63 792.14 L598.11 795.04 L598.11 796.78 L597.63 799.68M624.68 799.68 L625.16 800.84 L625.63 801.42 L627.06 802 L628.49 802 L629.92 801.42 L630.87 800.26 L631.34 798.52 L631.34 797.36 L630.87 795.62 L629.92 794.46 L628.49 793.88 L627.06 793.88 L625.63 794.46 L625.16 795.04 L625.63 789.82 L630.39 789.82M642.07 799.68 L641.12 801.42 L639.69 802 L638.74 802 L637.31 801.42 L636.36 799.68 L635.88 796.78 L635.88 795.04 L636.36 792.14 L637.31 790.4 L638.74 789.82 L639.69 789.82 L641.12 790.4 L642.07 792.14 L642.54 795.04 L642.54 796.78 L642.07 799.68M669.36 797.94 L669.83 796.2 L670.78 795.04 L672.21 794.46 L672.69 794.46 L674.12 795.04 L675.07 796.2 L675.54 797.94 L675.54 798.52 L675.07 800.26 L674.12 801.42 L672.69 802 L672.21 802 L670.78 801.42 L669.83 800.26 L669.36 797.94 L669.36 795.04 L669.83 792.14 L670.78 790.4 L672.21 789.82 L673.16 789.82 L674.59 790.4 L675.07 791.56M686.27 799.68 L685.32 801.42 L683.89 802 L682.94 802 L681.51 801.42 L680.56 799.68 L680.08 796.78 L680.08 795.04 L680.56 792.14 L681.51 790.4 L682.94 789.82 L683.89 789.82 L685.32 790.4 L686.27 792.14 L686.74 795.04 L686.74 796.78 L686.27 799.68M715.46 802 L720.22 789.82 L713.56 789.82M730.94 799.68 L729.99 801.42 L728.56 802 L727.61 802 L726.18 801.42 L725.23 799.68 L724.76 796.78 L724.76 795.04 L725.23 792.14 L726.18 790.4 L727.61 789.82 L728.56 789.82 L729.99 790.4 L730.94 792.14 L731.42 795.04 L731.42 796.78 L730.94 799.68M760.85 795.04 L762.75 794.46 L763.7 793.88 L764.18 792.72 L764.18 791.56 L763.7 790.4 L762.28 789.82 L760.37 789.82 L758.94 790.4 L758.47 791.56 L758.47 792.72 L758.94 793.88 L759.9 794.46 L761.8 795.04 L763.23 795.62 L764.18 796.78 L764.66 797.94 L764.66 799.68 L764.18 800.84 L763.7 801.42 L762.28 802 L760.37 802 L758.94 801.42 L758.47 800.84 L757.99 799.68 L757.99 797.94 L758.47 796.78 L759.42 795.62 L760.85 795.04M775.38 799.68 L774.43 801.42 L773 802 L772.05 802 L770.62 801.42 L769.67 799.68 L769.19 796.78 L769.19 795.04 L769.67 792.14 L770.62 790.4 L772.05 789.82 L773 789.82 L774.43 790.4 L775.38 792.14 L775.86 795.04 L775.86 796.78 L775.38 799.68M802.91 800.26 L803.38 801.42 L804.81 802 L805.76 802 L807.19 801.42 L808.14 799.68 L808.62 796.78 L808.62 793.88 L808.14 791.56 L807.19 790.4 L805.76 789.82 L805.29 789.82 L803.86 790.4 L802.91 791.56 L802.43 793.3 L802.43 793.88 L802.91 795.62 L803.86 796.78 L805.29 797.36 L805.76 797.36 L807.19 796.78 L808.14 795.62 L808.62 793.88M819.82 799.68 L818.87 801.42 L817.44 802 L816.49 802 L815.06 801.42 L814.11 799.68 L813.63 796.78 L813.63 795.04 L814.11 792.14 L815.06 790.4 L816.49 789.82 L817.44 789.82 L818.87 790.4 L819.82 792.14 L820.29 795.04 L820.29 796.78 L819.82 799.68M841.98 792.14 L842.93 791.56 L844.36 789.82 L844.36 802M857.94 799.68 L856.99 801.42 L855.56 802 L854.61 802 L853.18 801.42 L852.23 799.68 L851.75 796.78 L851.75 795.04 L852.23 792.14 L853.18 790.4 L854.61 789.82 L855.56 789.82 L856.99 790.4 L857.94 792.14 L858.42 795.04 L858.42 796.78 L857.94 799.68M869.14 799.68 L868.19 801.42 L866.76 802 L865.81 802 L864.38 801.42 L863.43 799.68 L862.95 796.78 L862.95 795.04 L863.43 792.14 L864.38 790.4 L865.81 789.82 L866.76 789.82 L868.19 790.4 L869.14 792.14 L869.62 795.04 L869.62 796.78 L869.14 799.68" class="cl"/>
<path d="M133 302 L130 305 L127 308.5 L121 308.5 L120 313 L119 316.5 L118.8 323 L118.5 330 L117.8 338 L115 347 L112 354 L111 359.5 L115 358 L120 356 L125 351 L129.5 344.5 L131 337 L132.5 328 L134 319 L136 310 L138 305 L142.5 302.5 L139 303 L136 304 L134.5 302.5ZM130.3 344.5 L131.8 337 L133.3 328 L134.8 319 L136.8 310 L138.8 305.2M190.5 198.5 L188.5 203 L190.5 210 L190 216 L188 223 L186 228 L185 234 L184 239 L180 242M190.5 198.5 L195 202 L197 206 L199 210 L204 213 L209 217.5 L213 222 L215 227 L219 233 L223 239 L227 244.5 L232 249 L238 251 L244 252.5 L247.5 250 L251 253 L255 254.5 L259 253.5 L263 250 L267 246 L270 244M180 242 L181.5 246 L182.5 250 L181.5 255 L182.5 260 L183 265 L180 269 L178.5 271 L181.5 276M231 279.5 L233.5 280.5M231.5 284.5 L234.5 285M270 244 L274 243 L278 240 L280 235 L283 230 L285 226.5 L289 224.5 L294 220 L299 220M259 253 L263 250 L266 247 L269.5 244" class="a"/>
<path d="M121 308.5 L127 308.5 L127.5 317 L121.5 316.5ZM120 323 L122.5 324.5 L120.5 326ZM113 354.5 L116.5 356 L120 352 L116.5 354.5ZM124 347 L120 352M192 201.1 L191.7 204.4 L192.4 207.7 L193 211 L192.8 214.3 L191.8 217.5 L190.9 220.7 L190.6 224 L190.3 227.4 L189.8 230.7 L188.7 233.9 L187.1 236.8 L185.2 239.5 L183 242M189 201.8 L191.7 204.4M189.1 205.2 L192.4 207.7M190.1 208.7 L193 211M190.3 212.3 L192.8 214.3M190 215.9 L191.8 217.5M189 219.4 L190.9 220.7M188 222.8 L190.6 224M186.7 226.2 L190.3 227.4M185.7 229.7 L189.8 230.7M185.1 233.2 L188.7 233.9M184.4 236.8 L187.1 236.8M182.9 239.8 L185.2 239.5M191.9 200.9 L193.8 203.7 L194.9 206.7 L196.1 209.9 L197.8 212.8 L200.6 214.6 L203.3 216.5 L205.8 218.9 L208 221.4 L210.2 224 L211.9 226.9 L213.3 229.9 L215.4 232.6 L217.6 235.1 L219.5 237.9 L221.4 240.7 L222.9 243.7 L224.8 246.2 L227.8 247.4 L230.3 249.6 L232.8 251.7 L236.2 252 L239.5 252.4 L242.7 253.1 L245.9 252.8 L249 253.7 L252.2 254.8 L255.4 255.4 L258.7 254.6 L261.6 253.1 L264.4 251.2 L267.1 249.3 L270 247.5M193.2 200.6 L193.8 203.7M195.6 203.1 L194.9 206.7M197.1 206.2 L196.1 209.9M198.7 209.3 L197.8 212.8M201.3 211.4 L200.6 214.6M204.2 213.2 L203.3 216.5M206.8 215.5 L205.8 218.9M209.4 217.9 L208 221.4M211.7 220.5 L210.2 224M213.5 223.3 L211.9 226.9M214.8 226.6 L213.3 229.9M216.7 229.5 L215.4 232.6M218.6 232.4 L217.6 235.1M220.5 235.3 L219.5 237.9M222.4 238.1 L221.4 240.7M224.4 241 L222.9 243.7M226.5 243.8 L224.8 246.2M228.9 246.2 L227.8 247.4M231.5 248.5 L230.3 249.6M234.6 249.9 L232.8 251.7M237.9 251 L236.2 252M241.3 251.8 L239.5 252.4M244.6 252.1 L242.7 253.1M247.4 250.1 L245.9 252.8M250 252.2 L249 253.7M253 253.8 L252.2 254.8M256.3 254.2 L255.4 255.4M259.5 253 L258.7 254.6M262.1 250.8 L261.6 253.1M264.6 248.4 L264.4 251.2M267.1 245.9 L267.1 249.3M191.5 216.5 L199 221 L203 227 L208 234 L207 236.5 L214 235.5M199 221 L199 225 L195 226.5 L191.5 230M207 236.5 L211 242 L214 249 L215 254M214 249 L223 247M215 254 L219 253.5 L221 256 L226 254 L234 252.5M215.5 255 L210 255.5 L204 254 L201 251M244 252.5 L246.5 255M183 242 L183.6 245.1 L184.1 248.2 L184.2 251.3 L183.8 254.5 L184.1 257.6 L184.5 260.7 L185.3 263.8 L185.6 266.7 L185.6 269.5 L184.4 272.1 L184.1 274.9M181.2 245.1 L183.6 245.1M182.1 248.4 L184.1 248.2M182.2 251.6 L184.2 251.3M181.5 254.9 L183.8 254.5M182.1 258.2 L184.1 257.6M182.7 261.6 L184.5 260.7M183 264.9 L185.3 263.8M181 267.6 L185.6 266.7M179 270.3 L185.6 269.5M179.8 273.1 L184.4 272.1M223 280.5 L224 276 L222.5 272 L224.5 268M228 277.7 L223.7 277.2M228.1 274.3 L223.3 274.1M227.7 270.9 L223 271M215 254 L215.5 259 L219 260.5 L225 261.5 L226.5 264 L224.5 268M201 251 L199 254 L200 257 L197.5 259 L199 263 L202 266 L203 267.5M246.5 255 L247 260 L246.5 266 L247.5 268.5M270.7 249.6 L273.6 248.2 L276.3 246.6 L278.7 244.5 L280.9 242.3 L282.8 239.9 L284.3 237.1 L285.5 234.2 L287.1 231.6 L289.2 229.2 L291.2 226.8 L293.4 224.7 L296.2 223.5M273.3 243.2 L273.6 248.2M276.1 241.4 L276.3 246.6M278.4 239.1 L278.7 244.5M279.6 235.9 L280.9 242.3M281.2 232.9 L282.8 239.9M283 230 L284.3 237.1M284.7 227.1 L285.5 234.2M287.4 225.3 L287.1 231.6M290.2 223.4 L289.2 229.2M292.7 221.2 L291.2 226.8M295.6 220 L293.4 224.7M259 255.5 L263 254 L267 252 L271 252M263 250 L263 254M266 247 L267 252M270 252 L270.5 260 L270 269M275 264 L276 258 L279 252 L283 247 L287 242M275 264 L278 265 L281 260 L284 252M283 230 L288 232 L292 232M290 230 L293 234 L297 234.5M292 225 L294 230M288 233 L290 240 L293 242M334 160 L340 159M333 164 L341 163M337 160 L338 173M334 168 L341 167M335 155 L336 172M354 178 L354 184 L352 188 L355 190 L358 194M356 196 L360 199 L358 202M347.5 144 L352 145 L355 146 L360 146.5 L361.5 149 L359 153 L359 157.5 L355 160 L354 164 L350 167 L346 165M349 140 L352 143 L352 145M366 137 L367 140 L362 142 L361.5 146.5M378 136 L380 140 L384 143 L383 139M377 142 L379 146 L375 149 L372 150 L370 154 L367 156 L367 158 L370 159 L371 164 L373 168 L371 173 L370 178 L371 182 L368 186.5 L364 184 L359 181 L355 178 L351 176M359 154 L364 155 L367 157M359 158 L362 161 L362.5 165 L361 168 L363.5 168.5 L359 170 L354 169 L352 171 L351 176M344 154 L347 156 L350 159 L354 164M344.5 155 L350 151 L354 150 L359 154M377 198 L381 198 L385 201 L390 204M377 198 L375 202 L373 205 L375 209 L377 207 L381 207 L383 210M390 141.5 L393 145 L394.5 141M420 150 L420 160 L418 163M414 158 L422 159M409.8 162 L410 164.9 L410.2 167.9 L410.5 170.8 L411.1 173.7 L411.6 176.5 L412.2 179.4 L412.9 182.3 L413.7 185.1 L414.5 187.9 L415.4 190.7 L416.3 193.5 L417.3 196.3 L418.4 199 L419.4 201.8 L420.4 204.5 L421.5 207.3 L422.5 210M407.9 164.9 L410 164.9M408.2 167.8 L410.2 167.9M408.6 170.8 L410.5 170.8M409.2 173.7 L411.1 173.7M409.7 176.6 L411.6 176.5M410.4 179.4 L412.2 179.4M411.1 182.3 L412.9 182.3M411.8 185.1 L413.7 185.1M412.7 187.9 L414.5 187.9M413.8 190.7 L415.4 190.7M414.8 193.5 L416.3 193.5M415.8 196.2 L417.3 196.3M416.9 199 L418.4 199M417.9 201.7 L419.4 201.8M418.9 204.5 L420.4 204.5M420 207.2 L421.5 207.3M422 159 L423 165 L420 168M418 172 L421 170 L423 173 L425 170 L427 173 L425 178 L424.5 183 L421 182.5 L419 184 L418 179 L417 176ZM427.5 160 L430 168 L430 174 L429 176M404 173 L407 172.5 L408.5 176 L405 178 L406 184 L407.5 190 L403 193 L399 195 L395 198 L396 202 L390 205 L386 202 L382 198 L377 198M407.5 190 L404 196 L400 202 L397 208 L394 210M386 229 L392 230 L396 235M363 200 L362.5 207M373 205 L375 208 L380 207 L384 211 L385 217 L386 223M373 205 L376 202 L375 200M375 208 L371 213 L369 216M384 200 L389 205 L394 203 L396 200M398 203 L397 207 L393 211 L394.5 216 L394.5 222.5 L388 223.5M394 225.5 L397.5 225.5 L400 232 L400 237M421 209 L417 212 L418 217 L419 221 L415 224 L413 227 L414.5 231 L413.5 235 L411 237 L410.5 240 L412 242 L410 245 L409 247M413.5 235 L416.5 237 L418 242 L414 244 L412 242M428 213 L427 219 L428 224 L429 229 L425 234 L424.5 239 L419 244M428 219 L434 218 L440 220M455.5 213 L460 217.5 L464.5 220.5 L471.5 222.8 L477 223.8 L483.5 223.2 L489.5 220.8 L493 220M460.1 214.1 L457.7 215.2M462.2 216.2 L460 217.5M464.6 218 L462.6 219.3M467.2 219.4 L465.4 220.8M470 220.3 L468.4 221.8M472.9 221.2 L471.4 222.8M475.8 221.8 L474.6 223.4M478.7 221.9 L477.7 223.7M481.7 221.6 L480.9 223.4M484.6 220.9 L484 223M487.3 219.7 L486.9 221.8M490.1 218.7 L489.9 220.7M493 220 L496 225 L500 226 L504 223.5M495 221.5 L498 223.5 L502 223M440 222 L446 223M439 227 L448 226M448 222 L452 218 L454 216 L451.5 211 L448.5 212M450 214 L453 220 L448 225M443 234 L444 239M428 216 L427 220 L429 226 L433 228 L437 229M430 252 L433 256M425 250 L423 256M449 237 L453 238 L457 239 L458 241 L461 239.5 L464.5 238.5 L467 241 L470 239.5 L473 242 L478 243 L480 246 L484 248 L490 246 L493 245 L496 247 L499 250 L502 245 L504 240 L506 242 L510 242.5M449 237 L443 240 L439 244 L432 248 L429 249M471 244 L470.5 250 L470 254 L467 258 L463 259 L460 257 L456 255.5 L451 257 L447 261 L444 264M484 248 L482 252 L486 256 L487 260 L483 263 L480 262 L478 264M499 250 L501 254 L501.5 258 L498 262 L494 265 L489 267 L485 270 L482 274 L480 276 L482 280M470 254 L473 260 L476 263M459 258 L457 264 L454 268 L451 270 L449 269 L445 265M451 270 L452 276 L456 278 L460 274 L464 271M466 259 L470 264 L472 267M452 288 L460 285M452 293 L458 291M450 280 L453 284M446 276 L450 280 L456 278 L460 280M480 286 L483 282 L485 279M468 275 L473 282M473 270 L476 280 L478 284M490 284 L495 282 L500 284.5 L503 285 L511 285 L511.5 290 L510 294 L508 298M494 288 L496 284M500 284.5 L501 290M505 290 L507 297 L510 294M520 273 L516 277 L514 282 L511 285M513 290 L516 294 L519 298M514 294 L520 292M540 223 L543 227 L545 230 L547 232M543.7 223.1 L541.7 225.3M545.6 225.6 L543.4 227.6M547.6 228 L545 230M547.8 232 L548 237 L549.2 243.5 L551.2 249.5 L554.5 256 L558 261 L560 265M550 233.1 L547.9 235M550 236.2 L548.2 237.9M550.4 239.2 L548.7 240.9M550.9 242.3 L549.3 243.8M551.7 245.2 L550.2 246.6M552.7 248.1 L551.2 249.5M554 250.9 L552.5 252.1M555.3 253.7 L553.9 254.8M557 256.3 L555.4 257.3M558.9 258.7 L557.1 259.8M560.6 261.2 L558.7 262.3M510 225 L512 229 L514.5 231.5 L516 237 L515 240 L515.5 244 L513.5 250 L515 255 L518 259 L521.5 263 L522 271 L524 276 L524.5 280M522 271 L518 275 L515.5 278M514.5 231.5 L520 226 L525 221.5M514.5 231.5 L521 233.5 L526 236 L527 240 L530 242 L533 247 L536 246 L539 243 L543 239 L544 234 L545 230M533 221.5 L532.5 229 L530 231 L530 235 L526 236M536 246 L538.5 250 L539 256 L540 262 L539 270 L538.5 280M538.5 248 L544 247.5 L545.5 252 L547 257 L551 262 L554 266 L558 268M540 262 L542 268 L544 274 L547 280M510 243 L515 244M544 234 L548 237M559 299 L558 290 L556 285 L552 280M572.5 279 L574.5 285 L574 290 L574.5 296 L575 300M571 282 L573.5 281.9M572 284.9 L574.4 284.8M571.7 288 L574.2 287.8M571.6 291.1 L574.1 290.9M571.9 294.2 L574.3 293.9M572.6 297.2 L574.6 297M566 315 L562 318 L558 319 L555 320 L556.5 323 L559 326 L561 327.5M561.7 314.7 L564.2 316.3M559.3 316 L562.5 317.6M556.4 316 L560.4 318.4M553.9 317.2 L558.3 318.9M551.5 318.7 L556.2 319.6M552 321.1 L555.4 320.8M553.4 323.5 L556.4 322.8M555.1 325.8 L557.8 324.5M557 328 L559.2 326.2M578 314 L581 317 L584 321 L587 326 L589 329.5 L593 330M578.2 317.2 L580 316M580.2 319.5 L581.9 318.2M582 322 L583.7 320.5M583.6 324.6 L585.2 323M585.1 327.3 L586.7 325.5M586.5 330 L588.1 328M589 331.4 L590.1 329.6M524 270 L524.5 276 L525 283 L526.5 290 L526 296 L530 300 L534 304M522 270 L518 275 L515 280 L511 284 L500 285M511 284 L510.5 290 L513 295M515 289 L518 288 L520 292 L519 295 L516 294ZM538.5 270 L539.5 280 L541 290 L542.5 296 L540 301M544 270 L547 277 L550 281 L552 280M550 281 L552 287 L554 293 L555 298M554 283 L557 290 L559 296M554.5 299 L560 299M590 271 L591.5 277 L595 281 L600 283 L602 287 L608 289.5 L612 293 L616 297 L621 300.5 L625 301 L624.5 297 L628 300 L629 296M594 274 L593.5 279M599 279 L598 282M605 284 L604 287.5M611 289 L609.5 290.5M639 297 L639 301 L636 304 L636 310 L631 312 L630 316 L626 314 L620 317 L617 320M639 297 L642 302 L647 304 L650 303M642 296.5 L641.5 300M582 277 L586 280 L591 277M603 343 L606 348M600 360 L601 366 L603 371M602 372 L606 375 L611 378 L614 376 L618 375M601.9 379.5 L604.1 373.6M604.8 380 L606.3 375.2M607.5 381 L608.5 376.5M610.2 381.8 L610.8 377.9M612.6 380.1 L613 376.7M615.1 378.7 L615.4 375.6M623.5 365 L621 371 L619 379 L619.5 390M624.6 368.8 L622.3 368M623.2 371.6 L621 370.9M622.4 374.6 L620.2 374.1M621.6 377.6 L619.5 377.2M621 380.6 L619.1 380.4M621.2 383.8 L619.2 383.6M621.3 386.9 L619.4 386.8M653 320 L652.5 330 L651.5 337M654.5 320 L654 330 L653 338M652.9 322.8 L654.3 323M652.7 325.7 L654.2 326M652.6 328.5 L654 329M652.3 331.4 L653.7 332M651.9 334.2 L653.4 335M638 350 L644 348M617 320 L614 321 L614.5 326 L610 329 L604 332M644 320 L640 324 L639 330 L634 331.5 L631 330.5 L626 334 L623 335 L624 339 L626.5 341 L626 347 L630 350 L634 350 L640 347M644 320 L647 325 L651 326M626 347 L624.5 354 L622 357 L621 361 L617 361 L614 363 L612 368 L609 370 L605 370.5 L602 370M621 361 L623 366M630 350 L631 355M605 370.5 L610 376 L613 379M637 343 L639 342 L642 345 L640 346ZM635 386 L633.5 393 L634.5 402 L635 410 L634.5 420 L634.5 430 L635 438M638.2 383.1 L634.4 388.7M638.2 386.1 L633.8 391.4M638.2 389.2 L633.6 394.1M638.3 392.2 L633.9 396.8M638.4 395.3 L634.2 399.6M638.5 398.3 L634.5 402.3M638.5 401.4 L634.7 405M638.2 404.4 L634.9 407.8M638 407.5 L635 410.5M637.8 410.5 L634.8 413.3M637.6 413.6 L634.7 416M637.5 416.6 L634.6 418.8M637.3 419.7 L634.5 421.5M637.4 422.7 L634.5 424.3M637.5 425.8 L634.5 427M637.7 428.8 L634.5 429.8M637.8 431.9 L634.7 432.5M638 434.9 L634.8 435.3M614 428 L615 432 L614 436 L616 440 L618 444 L621 447M613 432 L615 432M612.5 437 L614.5 436M615 442 L617 440M618 427 L621 430 L622 436 L618 439 L613 437M622 436 L623 442 L624 447M618 439 L619 444 L621 450M624 427 L627 432 L631 436 L633 442 L631 446M630 444 L635 442M541 570 L544 572M823.5 446 L827 445 L828 447 L831 445.5M822 455 L826 457 L830.5 456.5M823 466 L828 467 L830 471 L833 472M821 477 L825 479 L830 483 L832 485M820 475 L823 474M824 481 L824 487 L827 488M823.5 439 L824.5 445 L824 453 L824.5 463 L823.5 472 L822.5 481M788.5 548 L795 549 L796.5 553 L793 557 L788 559M786 561 L791 560.5 L790 564 L785.5 565M795 546 L798 550M299.4 210.6 L301 213M309 209.8 L312.2 209.8M573.6 274 L576 278M562.4 277.6 L562.8 283.6 L563.6 290 L564.8 294 L566.4 296.8M560.4 280.7 L562.6 280.4M560.8 283.7 L562.8 283.3M561.2 286.8 L563.1 286.1M561.6 289.8 L563.5 288.9M562.5 292.8 L564.1 291.7M563.8 295.5 L565 294.3M560 310.8 L564.8 309.2 L568 306 L572 306M561.3 305.5 L562.6 309.9M563.4 303.5 L565.1 308.9M566.3 302.7 L567 307M569.1 301.9 L569.3 306M545.6 250 L546 254.8 L549.6 259.6 L552.8 264.4 L556 267.6 L558.4 266.8M540 262 L542.4 266 L544 271.6 L548 277.2 L549.6 280.4 L552.8 277.2 L557.6 274.8M549.6 280.4 L552 285.2 L552.8 291.6 L553.6 298M553.6 278 L556 283.6 L556.8 290 L557.2 297.2M556 282 L559.2 287.6 L560 294.8 L560.8 298.8M540 286.8 L541.6 291.6 L542.4 296.4 L540 299.6M583.2 282 L588 278.8 L591.2 277.2" class="b"/>
<path d="M181.5 276 L185 274 L189 272 L193 270 L200 268.5 L203 267.5M214 277.5 L217 282 L220 282.5 L223 280.5 L224.5 282.5 L227 281M227 281 L228.5 276 L227.5 272 L228.5 267.5M239 265 L241 269 L241.5 273 L244 269 L247 268 L250 268.5M299 220 L297 225 L295 230 L292 232 L297 234.5 L299.5 236 L297 240 L293 242 L289.5 244 L288 247 L286.5 251 L284 257 L281 262 L278 266 L273 269 L270 272M270 272 L267 270 L263 266.5 L259 266.5 L254 265.5 L251 266.5 L250 270M343 205 L347 202.5 L350 204 L350 209 L346 211 L345 207ZM332.5 154 L337 153.5 L340 155 L342 160 L342.5 165 L341.5 170 L338 173 L334 172 L331.5 169 L332 163 L331.5 159ZM338 152.5 L342 151 L346 148.5 L347.5 144 L349 140M349 140 L353 139 L357 135.5 L362 137 L367 136.5 L370 137 L374.5 134.5 L378 136 L382 138.5 L386 139 L390 140M343 159 L344.5 164 L345.5 169M349 172 L351 176 L352.5 180 L350 184 L349 190 L352 194 L355 192 L360 195 L364 196.5 L362 200 L360 204 L362 208 L362 210M390 140 L393 138.5 L397 141 L403 143M403 143 L408 145 L414 147 L419 148 L422 152 L424.5 154.5M424.5 154.5 L429 156 L431 159 L433 162 L436 164 L436 167 L432.5 167 L431 170 L430.5 174 L431.5 179 L434 185 L436 190 L438 195 L439 200M412 148 L413 156 L411 162M416 149 L417 156 L415 160M403 143 L406 150 L407.5 156 L407 162M407.5 162 L408.5 170 L410 178 L412 186 L415 194 L418 202 L421 210M418 160 L419.5 168 L417 174 L418 182 L420 188 L426 186 L427 192 L426 198 L429 204 L434 207M350 206 L356 207.5 L361 208M370 217.5 L375 221 L380 223.5 L384 227M384 227 L389 233 L390 238 L389 240.5 L394 240 L399 243M388 224 L394 229 L399 233 L400 237 L400 240 L400 242M386.1 229.5 L390.2 225.9M388.2 232.1 L392.5 227.7M389.4 235.1 L394.7 229.6M389.9 238.3 L397 231.4M389.9 240.4 L399.1 233.4M393.2 240.1 L399.8 236.2M396.2 241.3 L400 239.1M399 243 L404 243.5 L409 247M418 200 L419 204 L423 209 L428 213 L433 214.8 L440 212.5M440 201 L442 208 L445 211M458 212 L462 216 L466 219 L472 221 L477 222 L483 221.5 L489 219 L493 218M448 200 L447 206 L448.5 212 L448 218 L447.5 225 L448 230 L445 233M437 221 L438 226 L441 230 L446 229M442 219 L443 225 L442 230M430 233 L435 235 L440 234 L445 233 L449 237M424 240 L429 236 L434 234M410 240 L413 244 L416 247M422 244 L427 245 L430 252M437 276 L441 280M443 272 L447 276 L450 280M470 268 L472 276 L474 280M460 276 L464 280M436 281 L443 280M454 284 L455 290 L454 296M458 282 L457 288 L455 294M467 278 L472 275 L476 272 L477 269M470 283 L474 279 L476 274M476 285 L479 281 L480 277M494 293 L497 289 L500 290M506 304 L510 301 L512 297 L515 300 L518 304 L520 306M510 224 L515 224 L520 223 L525 221 L527.5 216.5 L529 219 L533 221 L539 220 L542 220.5M550 230 L550 237 L551 243 L553 249 L556 255 L560 260 L562 264M562 264 L566 265 L570 267 L574 266 L574 260.5 L576 263 L578 269 L580 274M580 274 L583 273 L587 271 L591 268M581.2 266.8 L583 266M510 301 L512 297 L515 300M517 300 L523 300 L527 302 L530 305M535 308 L538 304 L542 301M550 304 L554 301 L560 299M570 279 L572 285 L571.5 290 L572 296 L574 300M564 305 L565 309M564 313 L560 316 L556 316 L551 319 L553 323 L556 327 L559 330M561 327.5 L565 326 L569 322M576 315 L579 318 L582 322 L585 327 L587 331 L592 332M592 332 L596 330 L600 328.5M617 292 L623 294.5 L625.5 290.5 L628 294M649 296.5 L649.5 292.5M591 267.5 L588 271 L584 273 L582 277M592 332.5 L595 332.5 L596 329 L601 326 L603 328.5 L602 332 L599 333.5M602 336 L604 340 L607 345M596 340 L598 346 L597 352M592 363 L599 362M591.5 368 L600 367M594 374 L601 372M626 366 L623 372 L621 380 L621.5 390M634 357 L642 355M635 363 L642 362M639 374 L635 378 L634 384 L633 390M631 404 L634 405M630 410 L634 409M594 427.2 L597 428M525 575 L530 579 L532 575 L535 572 L540 572M529 573 L533 577M524 578 L529 576M536 570 L538 574M562 575 L567 576M564 571 L565 579M563 580 L566 581M830 432.5 L826.5 434.5 L824 438 L821.5 443 L822 450 L821.5 455 L822.5 458 L822.5 465 L822 471 L819.5 475 L820.5 479 L822 485 L824 490 L825.5 493.5M788.5 545.5 L795 546 L805 544.5M783.5 572.5 L784.5 567 L786 559 L787.5 552 L788.5 545.5M818 531.5 L822 530.5M296.2 210.6 L299.4 208.6 L304.2 205 L309 200.2 L313.8 195.4 L317 190.6 L316.6 185.8 L317.8 178.6 L320.2 181 L325 183.4 L330.6 185.4 L328.2 189 L325 192.2 L322.6 196.2 L319.4 198.6 L317 201 L313 204.2 L312.2 208.2 L312.6 212.2 L309 212.2 L302.6 215 L297 213.8ZM297.8 212.2 L302.6 209.8 L307.4 206.6 L311.4 202.6 L315.4 197.8 L319.4 193.8 L322.6 189.8 L326.6 186.6M301 213.8 L304.2 208.2 L309 205M305.8 213 L308.2 208.2 L311.4 206.6M317.8 189 L322.6 188.2 L325 185.8M317 193.8 L321 191.4 L323.4 186.6M318.6 182.6 L321 185.8 L320.2 190.6M323.4 178.2 L326.6 173 L330.6 170.6 L333 173.8 L336.2 177 L337.8 180.2 L335.4 181.8 L332.2 179.4 L328.2 179 L325 179.4ZM326.6 176.2 L331.4 174.6 L334.6 178.6M329 172.2 L330.6 178.6M333 174.6 L332.2 179.4M558.4 266 L564 263.6 L568.8 266 L573.6 266M567.2 274 L570.4 280.4 L572 284.4 L575.2 283.6 L578.4 285.2 L581.6 282 L583.2 277.2M568 269.2 L572 273.2 L572 279.6M570.4 267.6 L574.4 271.6 L576.8 270.8M564 270 L568.8 270.8 L572 270 L575.2 268.4M560.8 269.2 L563.2 273.2 L566.4 273.2M560 277.6 L560.8 283.6 L561.6 290 L563.2 294.8 L565.6 298M564 280.4 L564 286.8 L564.8 291.6M559.2 307.6 L563.2 303.6 L568.8 302 L572 301.2M565.6 314 L568.8 310.8 L573.6 309.2 L574.4 306M130 305 L133 302 L134.5 302.7 L136 304 L139 303 L142.5 302.5M111 359.5 L115 358 L120 356 L125 351 L129.5 344.5M112 354 L111.2 359.2" class="c"/>
<path d="M203 267.5 L206 271 L210 275 L214 277.5M228.5 267.5 L231 264 L236 262.5 L239 265M250 268.5 L253 266 L258 265.5 L263 266.5 L267 269.5 L270 271M286.5 218.5 L290 215.8 L293.5 216.2 L292 218.8 L288.2 220.8ZM339 153.5 L341 157 L343 159M345.5 169 L349 172M344 204.5 L347 203 L350 206 L354 205M439 200 L442 202 L446 199 L449 195 L451 198 L449 202 L453 204 L457 207 L459 210M405 145 L409 150 L410 155 L409 160M408 147 L414 150 L420 153M410 153 L416 155 L422 156M409 163 L410 172M419.5 187 L423 187M429 176 L431 184M440 204 L444 206 L448 209M343 205 L347 203 L350 206 L347 210M361 208 L364 212 L367 216 L370 217.5M389 234 L396 240M390 239 L398 240M409 247 L409 251 L413 252 L416 254.5 L420 257 L422 261 L426 264 L430 267 L434 270 L437 275 L434 280M440 201 L444 206 L448 203 L450 200M442 204 L446 202M453 204 L455 208 L458 212M493 218 L498 219.5 L504 221.5 L510 224M432 215 L436 213 L441 215 L442 219 L438 221 L433 220ZM435 217 L440 217.5M440 230 L446 231M410 247 L414 250 L419 248 L423 243 L426 240M412 252 L417 254 L421 250 L425 247 L429 249M420 259 L424 256 L428 254M423 262 L427 260 L430 256 L433 258 L436 257M430 264 L436 262 L440 259 L443 264 L445 269 L443 272M433 260 L438 266 L440 272 L438 276M434 268 L440 266M462 274 L466 270 L471 268 L476 264 L479 264M464 277 L469 274 L474 270 L477 267M466 280 L470 277 L474 274M433 280 L438 283 L444 282 L448 288 L452 285M434 279 L440 278 L445 280 L450 279M452 285 L451 292 L453 298 L448 301 L450 304.5 L454 300 L457 295 L460 288 L462 281 L465 279M465 279 L469 283 L474 287 L480 288 L484 287 L486 282 L488 280M462 274 L467 270 L472 267 L476 263 L479 264 L477 269M464 276 L470 273 L475 270M488 280 L490 285 L492 290 L494 293M500 290 L503 294 L505 298 L506 304 L503 306M510 306 L515 309 L520 311M500 219.5 L504 221.8 L510 224M542 220.5 L545 225 L548 228.5 L550 230M549.5 233 L550 240 L551.5 246M591 268 L593 272 L596 276 L600 278M581.5 265.5 L582.5 267M500 291 L504 296 L507 303 L504 306M502 288 L506 293 L509 299M510 306 L515 309 L520 310 L518 306M515 300 L519 304 L524 303 L528 305 L531 308.5 L535 308M516 303 L523 306 L529 307M542 301 L545 299 L549 301 L550 304M544 302 L549 303M564 297 L565 294 L563 288 L561 280 L560 275M542 311 L544 308.8 L549 308.2 L549.5 310 L545 310.6 L543.5 312.5ZM574 300 L573 305 L569 307 L565 304 L561 305 L558 308 L562 310 L564 313M570 303 L566 306 L562 307M559 330 L564 329 L568 325 L571 321 L573 316 L576 315M596 330 L598 336 L597.5 342 L598.5 348 L600 350M591 267.5 L595 274 L600 279 L606 284 L612 289 L617 292M624.5 291.5 L626.5 293M628 294 L634 296 L640 296 L646 296 L649 296.5M649.5 292.5 L652 299 L655 305 L655 310 L652.5 313 L652.5 320M572 316 L576 315 L580 319 L583 320M597.5 334 L598.5 340 L599.5 347 L598.5 353 L600 360M600 335 L602 340 L604 344 L608 347 L606 351 L602 350M591.5 360 L591 366 L593 372 L596 377 L599 379M594 360 L595 366 L598 370 L600 375M597 360 L599 366 L600 370M599 379 L605 380 L610 382 L614 379 L618 378M618 378 L621 382 L622 390M608 382 L610 380M644 341 L639 348 L634 354 L630 359 L626 366 L623 372 L621 380M653 310 L654.5 320 L654 330 L653 338 L649 339 L645 341M645 341 L644 350 L643.5 360 L642 370 L639 374 L637 380 L636 390M634 360 L636 366 L640 370M636 354 L639 360 L640 366M640 350 L641 358 L642 366M622 380 L622.5 390M608 382 L613 381 L619 382M638.2 380 L638.2 390 L638.6 400 L637.8 410 L637.3 420 L637.7 430 L638.2 438M635 386 L632.5 393 L633 402 L630 407 L630 412 L634.5 410M638.5 438 L637 444 L634 448 L630 449 L628 446 L624 447 L621 450 L617 447 L614 442 L612 437 L610.5 432 L613 427 L616 425 L616.5 420.5 L620 425 L624 427 L628 426 L628 423 L630 423 L630.5 431 L634 432 L634.5 420M595.5 418.8 L599 419.5 L602 421M598.2 433.5 L601.8 434.5 L600 432.5ZM589.8 451 L591.2 449.8 L592.8 451.2 L591.2 452.4ZM523 574 L529 572 L534 568.5 L540 569.5 L545 568 L548 570.5 L545 573 L540 574.5 L536 577 L533 581 L530.5 584.5 L527 582 L523 580 L521.5 577M566 569 L569 572 L569.5 576 L567 579 L566 584 L563 586.5 L561.5 583 L562 579 L559 576 L558.5 573 L562 570 L563.5 569M830 432.8 L832.2 433.8 L832.2 443 L832.6 455 L833.3 467 L834.2 475 L833.7 483 L832 486.8 L829 489 L825.7 493M804.8 544.8 L802 549 L797 555 L793 561 L789 567 L786 571.5 L783.7 572.3M814.7 533.8 L816.2 530.2 L820 528.7 L825.3 527.2 L824.8 530 L822 532.5 L819.5 534.3ZM558.4 266.8 L560 270.8 L559.2 274 L561.6 277.2 L564 280.4M564 264.4 L564 269.2 L567.2 274 L566.4 278 L564 280.4M575.2 274 L577.6 276.4 L580 278 L581.6 276.4M570.4 276.4 L573.6 281.2 L577.6 282M560.8 314 L564 310.8 L567.2 309.2M540 301.2 L544.8 299 L549.6 301.2 L554.4 300 L560 298.8" class="d"/>
<path d="M426 186 L434 185 L436 190 L438 195 L439 200 L440 203 L434 207 L429 204 L426 198 L427 192ZM546.5 332.2 L552 329.7 L552.5 333 L550 336.5 L546.7 335ZM586.5 356.8 L589 357.2 L589.5 359 L588 358.4ZM617 451.5 L611 452.5 L607 459 L601 461.5 L598 472.5 L605 466 L609 459 L612 454.5ZM561 467.8 L565 465.7 L571 465 L569 467 L564 469ZM471.5 338.4 L474.3 338 L475.3 340.5 L473.3 341.9 L471.4 340.1ZM482.7 340.1 L487.6 341.5 L491.8 342.9 L489 345.7 L485.5 343.6ZM513 575 L518 573.5 L523 574 L521.5 577 L515 577ZM563 553 L566 556 L569.5 559 L568 561.5 L566 560.5 L566 569 L563.5 569 L563.5 560ZM572 530 L573.5 526.5 L575 528 L573.5 531.5ZM564.9 639.5 L567.9 640 L567.2 644ZM523.8 652.6 L527.1 653 L524.4 655.7ZM474.2 650.1 L475.2 649 L476.3 650.1 L475.2 651.4ZM480.3 647.5 L481.9 646.1 L483.5 648.3ZM841.5 477 L842.5 477.5 L841.8 481.5 L841.2 481ZM843.5 492 L847 494 L852 497 L853 501.5 L849 498 L845 495ZM836 520.5 L837.5 522.5 L837.5 525.5 L836.2 525ZM853.5 526.5 L854.5 522.5 L855.5 523 L855 526ZM852.5 534 L855 532.5 L856.5 535 L857 539 L857.5 541.5 L855.5 540.5 L854 537.5ZM259 436.5 L261 434.5 L262.5 436.5 L261.2 438.5ZM767.2 637.2 L768.8 637.2 L770.5 640.5 L770 642.5 L770.5 651.2 L768.2 651.2 L768.5 648.5 L767.5 648.5 L768.5 647 L768.2 640ZM318.6 200.2 L321 199.4 L324.2 203.4 L325.8 208.6 L323.4 210.6 L321 208.2 L319.4 204.2ZM336 186.2 L337 186 L337.6 188.6 L336.6 188.6ZM596.8 334.4 L603.2 335.2 L604.8 340 L607.2 343.2 L609.6 347.2 L607.2 352 L604 350.4 L601.6 353.6 L600.8 358.4 L599.2 360 L598.4 355.2 L596.8 352 L597.6 347.2 L596 345.6 L598.4 342.4 L596.8 339.2ZM591.2 359.2 L596 360 L600 361.6 L600.8 368 L604 371.2 L606.4 376 L610.4 379.2 L606.4 380.8 L601.6 379.2 L597.6 376 L593.6 374.4 L591.2 369.6 L590 364.8ZM409.6 246 L417.6 242.8 L425.6 249.2 L432 254 L440 255.6 L444.8 262 L446.4 270 L448 276.4 L443.2 278 L438.4 273.2 L432 266.8 L424 262 L416 255.6 L411.2 250.8ZM433.6 279.6 L441.6 278 L448 281.2 L454.4 278 L460.8 276.4 L460.8 284.4 L456 294 L451.2 302 L448 303.6 L449.6 297.2 L452.8 289.2 L449.6 286 L440 282.8ZM460.8 276.4 L467.2 268.4 L475.2 262 L478.4 265.2 L475.2 273.2 L480 278 L486.4 281.2 L483.2 287.6 L475.2 287.6 L468.8 282.8 L464 279.6ZM486.4 281.2 L491.2 284.4 L496 289.2 L502.4 292.4 L507.2 297.2 L510.4 302 L504 305.2 L502.4 298.8 L497.6 294 L492.8 292.4 L489.6 287.6ZM510.4 302 L516.8 298.8 L524.8 297.2 L528 302 L534.4 303.6 L540.8 300.4 L548.8 300.4 L548.8 305.2 L540.8 305.2 L534.4 308.4 L526.4 306.8 L518.4 310 L512 306.8ZM283 230 L285 226.5 L289 224.5 L294 220 L299 220 L297 225 L295 230 L292 232 L297 234.5 L299.5 236 L297 240 L293 242 L289.5 244 L288 240 L287 234ZM259 253 L263 250 L269.5 244 L274 243 L278 240 L280 235 L283 230 L287 234 L284 240 L280 244 L276 248 L271 252 L267 252 L263 254.5 L259.5 255.5ZM289.5 244 L288 247 L286.5 251 L284 257 L281 262 L278 266 L276 265 L279 261 L282 256 L284.5 250 L286 245ZM296.2 210.6 L299.4 208.6 L304.2 205 L309 200.2 L313.8 195.4 L317 190.6 L316.6 185.8 L317.8 178.6 L320.2 181 L325 183.4 L330.6 185.4 L328.2 189 L325 192.2 L322.6 196.2 L319.4 198.6 L317 201 L313 204.2 L312.2 208.2 L312.6 212.2 L309 212.2 L302.6 215 L297 213.8ZM323.4 178.2 L326.6 173 L330.6 170.6 L333 173.8 L336.2 177 L337.8 180.2 L335.4 181.8 L332.2 179.4 L328.2 179 L325 179.4ZM332.5 154 L337 153.5 L340 155 L342 160 L342.5 165 L341.5 170 L338 173 L334 172 L331.5 169 L332 163 L331.5 159ZM349.4 183.4 L354.1 184.8 L357.8 193.8 L363.4 197.9 L361.9 208.8 L365.3 214.4 L362.5 217.2 L357.4 210.6 L353.1 205 L354.1 195.6 L350.3 190ZM342.8 203.5 L348.4 202.2 L352.8 204.1 L351.3 209.7 L346.6 211.6 L344.7 207.3ZM432.5 163.5 L436 164 L436.5 167.2 L433 167.2ZM440 202 L444 200 L447 195 L450 194 L451.5 198 L450 202 L454 203.5 L458 207 L460 210 L454 210 L450 207 L445 207 L441 205ZM383 224 L388 223 L394 225.5 L397.5 225.5 L400 232 L400.5 242 L396 242 L390 240 L389 234 L385 229ZM644 340.5 L645.5 342 L640 349 L635 355 L631 360 L627.5 367 L624.5 374 L623 380 L621 380 L622 373 L625 366 L629 359 L633.5 353.5 L638.5 347.5ZM634 352 L640 348 L644.5 343 L644.5 350 L644 360 L642.5 370 L639 371 L636 366 L634 360ZM552.4 319.1 L558 312.4 L564.8 304.5 L573.8 302.3 L571.5 311.3 L564.8 320.3 L559.1 329.3 L553.5 327ZM558.4 266 L564 263.6 L568.8 266 L573.6 266 L573.2 260.4 L575.2 260.4 L577.6 266 L579.2 270.8 L582.4 274 L583.2 277.2 L581.6 282 L578.4 285.2 L575.2 283.6 L572 284.4 L570.4 280.4 L567.2 274 L564 280.4 L560.8 277.2 L557.6 274Z" class="f"/>
<path d="M434 189h1.4v2.1h-1.4zM434 198h1.4v1.12h-1.4zM434 201h1.4v1.12h-1.4zM435 201h1.4v2.1h-1.4zM430 202h1.4v1.12h-1.4zM430 199h2.1v1.12h-2.1zM430 198h1.12v2.1h-1.12zM427 197h1.12v1.4h-1.12zM431 186h2.1v1.4h-2.1zM436 196h2.1v1.4h-2.1zM433 201h1.4v1.4h-1.4zM432 199h1.4v1.4h-1.4zM436 200h1.4v1.12h-1.4zM433 196h1.4v1.4h-1.4zM428 194h1.4v2.1h-1.4zM436 199h1.4v1.4h-1.4zM434 201h1.12v1.4h-1.12zM428 199h1.12v1.4h-1.12zM429 192h2.1v2.1h-2.1zM435 191h1.4v1.4h-1.4zM434 193h2.1v1.12h-2.1zM432 190h1.4v2.1h-1.4zM434 200h2.1v1.4h-2.1zM430 188h2.1v1.4h-2.1zM430 187h1.4v1.4h-1.4zM431 187h1.4v2.1h-1.4zM434 190h2.1v1.12h-2.1zM433 197h1.4v1.4h-1.4zM432 187h1.4v1.4h-1.4zM430 187h1.4v1.4h-1.4zM429 195h1.4v1.4h-1.4zM427 196h1.12v1.12h-1.12zM435 200h1.4v1.12h-1.4zM437 202h1.4v1.4h-1.4zM431 194h1.4v1.12h-1.4zM435 195h1.4v1.4h-1.4zM433 199h2.1v1.4h-2.1zM428 192h1.4v1.4h-1.4zM431 195h1.12v2.1h-1.12zM428 189h1.4v2.1h-1.4zM429 192h1.12v1.4h-1.12zM428 196h2.1v1.12h-2.1zM429 198h2.1v1.12h-2.1zM432 198h1.12v2.1h-1.12zM428 193h1.4v2.1h-1.4zM429 198h2.1v1.4h-2.1zM434 203h1.12v1.12h-1.12zM427 196h2.1v1.12h-2.1zM433 187h2.1v1.12h-2.1zM432 187h1.4v2.1h-1.4zM434 193h1.4v1.12h-1.4zM433 187h1.12v1.4h-1.12zM430 202h1.4v1.12h-1.4zM427 195h2.1v1.4h-2.1zM433 204h1.4v2.1h-1.4zM429 190h1.4v2.1h-1.4zM427 186h1.12v1.4h-1.12zM427 192h1.4v1.4h-1.4zM431 196h1.4v1.12h-1.4zM427 197h1.12v1.4h-1.12zM434 191h1.12v2.1h-1.12zM431 190h1.12v1.4h-1.12zM429 186h1.12v1.4h-1.12zM428 193h2.1v1.4h-2.1zM434 194h2.1v1.12h-2.1zM433 202h2.1v2.1h-2.1zM431 193h2.1v2.1h-2.1zM602 343h1.3v1.04h-1.3zM604 347h1.3v1.04h-1.3zM606 349h1.3v1.04h-1.3zM599 345h1.95v1.95h-1.95zM599 336h1.95v1.95h-1.95zM600 346h1.3v1.95h-1.3zM601 340h1.3v1.3h-1.3zM599 337h1.95v1.3h-1.95zM600 345h1.3v1.95h-1.3zM604 343h1.3v1.3h-1.3zM600 352h1.3v1.95h-1.3zM603 343h1.3v1.3h-1.3zM598 336h1.95v1.3h-1.95zM605 348h1.95v1.3h-1.95zM602 337h1.3v1.95h-1.3zM604 347h1.95v1.04h-1.95zM599 341h1.95v1.04h-1.95zM599 349h1.95v1.3h-1.95zM598 336h1.3v1.04h-1.3zM599 336h1.3v1.04h-1.3zM600 350h1.04v1.3h-1.04zM599 352h1.3v1.3h-1.3zM599 343h1.3v1.3h-1.3zM599 345h1.04v1.3h-1.04zM599 350h1.04v1.3h-1.04zM599 342h1.95v1.04h-1.95zM601 351h1.95v1.3h-1.95zM605 342h1.04v1.04h-1.04zM605 346h1.95v1.3h-1.95zM600 348h1.95v1.3h-1.95zM598 346h1.3v1.3h-1.3zM604 349h1.95v1.3h-1.95zM605 343h1.04v1.3h-1.04zM603 344h1.04v1.3h-1.04zM605 349h1.3v1.95h-1.3zM601 351h1.3v1.3h-1.3zM602 345h1.95v1.04h-1.95zM598 347h1.3v1.95h-1.3zM599 352h1.95v1.95h-1.95zM597 337h1.95v1.3h-1.95zM592 368h1.04v1.95h-1.04zM603 377h1.95v1.95h-1.95zM599 369h1.3v1.95h-1.3zM602 375h1.95v1.04h-1.95zM598 374h1.04v1.04h-1.04zM599 365h1.3v1.3h-1.3zM591 363h1.04v1.95h-1.04zM602 371h1.95v1.04h-1.95zM596 365h1.95v1.95h-1.95zM591 364h1.95v1.95h-1.95zM591 367h1.95v1.3h-1.95zM600 370h1.95v1.95h-1.95zM606 377h1.3v1.95h-1.3zM605 379h1.04v1.3h-1.04zM592 363h1.04v1.3h-1.04zM596 374h1.3v1.04h-1.3zM592 362h1.3v1.04h-1.3zM605 377h1.04v1.3h-1.04zM595 371h1.3v1.3h-1.3zM602 375h1.3v1.3h-1.3zM599 370h1.04v1.3h-1.04zM598 372h1.3v1.04h-1.3zM594 372h1.3v1.3h-1.3zM596 371h1.3v1.95h-1.3zM601 375h1.3v1.95h-1.3zM600 375h1.3v1.95h-1.3zM596 373h1.3v1.3h-1.3zM598 364h1.3v1.3h-1.3zM597 366h1.3v1.04h-1.3zM594 361h1.95v1.3h-1.95zM599 367h1.3v1.95h-1.3zM599 372h1.3v1.95h-1.3zM598 364h1.3v1.95h-1.3zM597 367h1.3v1.04h-1.3zM596 362h1.04v1.3h-1.04zM598 366h1.95v1.04h-1.95zM592 361h1.95v1.95h-1.95zM593 361h1.3v1.3h-1.3zM602 378h1.3v1.3h-1.3zM598 364h1.3v1.95h-1.3zM596 362h1.04v1.04h-1.04zM598 370h1.95v1.04h-1.95zM605 376h1.04v1.04h-1.04zM595 361h1.3v1.3h-1.3zM597 366h1.04v1.95h-1.04zM438 263h1.3v1.3h-1.3zM437 261h1.95v1.3h-1.95zM441 267h1.95v1.3h-1.95zM420 252h1.3v1.3h-1.3zM428 255h1.3v1.3h-1.3zM432 264h1.3v1.95h-1.3zM423 256h1.04v1.3h-1.04zM423 260h1.3v1.04h-1.3zM430 264h1.95v1.3h-1.95zM414 249h1.3v1.3h-1.3zM433 261h1.3v1.3h-1.3zM433 259h1.3v1.3h-1.3zM424 260h1.3v1.95h-1.3zM431 265h1.3v1.3h-1.3zM444 270h1.3v1.3h-1.3zM427 256h1.3v1.3h-1.3zM438 265h1.95v1.3h-1.95zM415 252h1.3v1.3h-1.3zM420 254h1.04v1.3h-1.04zM417 249h1.04v1.04h-1.04zM422 249h1.95v1.3h-1.95zM423 252h1.3v1.3h-1.3zM437 262h1.95v1.95h-1.95zM442 270h1.3v1.04h-1.3zM436 268h1.95v1.3h-1.95zM431 264h1.95v1.3h-1.95zM438 256h1.3v1.04h-1.3zM439 270h1.3v1.95h-1.3zM438 263h1.95v1.04h-1.95zM441 270h1.3v1.3h-1.3zM432 265h1.3v1.3h-1.3zM432 260h1.3v1.3h-1.3zM429 264h1.95v1.3h-1.95zM430 255h1.95v1.04h-1.95zM427 261h1.04v1.3h-1.04zM425 259h1.3v1.3h-1.3zM426 253h1.95v1.3h-1.95zM438 262h1.3v1.3h-1.3zM443 276h1.3v1.04h-1.3zM443 276h1.95v1.3h-1.95zM417 243h1.04v1.95h-1.04zM424 260h1.95v1.04h-1.95zM424 255h1.3v1.04h-1.3zM442 260h1.3v1.95h-1.3zM425 253h1.3v1.3h-1.3zM441 264h1.3v1.95h-1.3zM417 249h1.3v1.04h-1.3zM443 267h1.3v1.3h-1.3zM425 255h1.3v1.95h-1.3zM443 273h1.95v1.04h-1.95zM420 254h1.04v1.95h-1.04zM416 245h1.95v1.3h-1.95zM437 261h1.3v1.95h-1.3zM439 261h1.04v1.04h-1.04zM444 269h1.3v1.04h-1.3zM432 258h1.04v1.3h-1.04zM440 273h1.3v1.95h-1.3zM432 265h1.3v1.04h-1.3zM438 263h1.04v1.04h-1.04zM428 252h1.04v1.04h-1.04zM419 252h1.95v1.95h-1.95zM441 272h1.3v1.3h-1.3zM440 268h1.04v1.95h-1.04zM421 253h1.3v1.3h-1.3zM440 273h1.3v1.95h-1.3zM437 270h1.3v1.3h-1.3zM422 253h1.3v1.3h-1.3zM419 248h1.3v1.04h-1.3zM420 247h1.3v1.04h-1.3zM442 264h1.04v1.95h-1.04zM433 264h1.95v1.3h-1.95zM441 265h1.95v1.04h-1.95zM412 246h1.3v1.04h-1.3zM428 260h1.04v1.3h-1.04zM411 248h1.3v1.3h-1.3zM440 267h1.04v1.3h-1.04zM444 265h1.04v1.95h-1.04zM420 257h1.95v1.3h-1.95zM420 254h1.3v1.3h-1.3zM415 250h1.04v1.95h-1.04zM428 253h1.95v1.95h-1.95zM422 259h1.3v1.3h-1.3zM416 248h1.3v1.3h-1.3zM416 254h1.95v1.3h-1.95zM434 262h1.3v1.95h-1.3zM441 270h1.3v1.3h-1.3zM445 274h1.3v1.3h-1.3zM418 254h1.3v1.3h-1.3zM434 266h1.3v1.3h-1.3zM435 260h1.04v1.3h-1.04zM429 256h1.3v1.04h-1.3zM431 262h1.3v1.04h-1.3zM428 257h1.3v1.04h-1.3zM421 251h1.3v1.3h-1.3zM443 276h1.3v1.04h-1.3zM431 256h1.3v1.95h-1.3zM441 269h1.04v1.04h-1.04zM429 261h1.95v1.04h-1.95zM422 251h1.95v1.95h-1.95zM445 272h1.95v1.3h-1.95zM411 249h1.95v1.95h-1.95zM423 252h1.3v1.95h-1.3zM416 249h1.3v1.3h-1.3zM436 267h1.04v1.3h-1.04zM437 256h1.3v1.04h-1.3zM422 253h1.3v1.3h-1.3zM419 245h1.3v1.04h-1.3zM436 266h1.95v1.3h-1.95zM440 260h1.04v1.3h-1.04zM418 252h1.04v1.3h-1.04zM421 251h1.3v1.3h-1.3zM429 262h1.95v1.04h-1.95zM425 261h1.04v1.95h-1.04zM445 273h1.04v1.3h-1.04zM427 261h1.3v1.3h-1.3zM438 262h1.95v1.3h-1.95zM430 263h1.95v1.3h-1.95zM418 253h1.3v1.3h-1.3zM434 266h1.3v1.3h-1.3zM427 257h1.3v1.04h-1.3zM411 246h1.3v1.3h-1.3zM418 247h1.95v1.95h-1.95zM437 265h1.3v1.95h-1.3zM442 268h1.3v1.3h-1.3zM429 255h1.95v1.3h-1.95zM430 257h1.3v1.95h-1.3zM438 267h1.3v1.95h-1.3zM441 268h1.3v1.3h-1.3zM440 260h1.95v1.04h-1.95zM420 250h1.04v1.04h-1.04zM446 281h1.3v1.95h-1.3zM456 279h1.3v1.3h-1.3zM451 295h1.3v1.95h-1.3zM450 298h1.95v1.95h-1.95zM437 279h1.95v1.3h-1.95zM459 284h1.04v1.3h-1.04zM459 279h1.3v1.95h-1.3zM451 282h1.95v1.3h-1.95zM459 277h1.3v1.95h-1.3zM442 280h1.95v1.04h-1.95zM457 287h1.3v1.95h-1.3zM440 279h1.3v1.04h-1.3zM454 287h1.04v1.3h-1.04zM447 282h1.04v1.3h-1.04zM457 278h1.3v1.04h-1.3zM441 279h1.3v1.95h-1.3zM452 280h1.3v1.3h-1.3zM454 288h1.3v1.3h-1.3zM448 283h1.3v1.95h-1.3zM458 279h1.3v1.04h-1.3zM455 278h1.04v1.3h-1.04zM458 280h1.3v1.3h-1.3zM459 279h1.04v1.04h-1.04zM457 284h1.3v1.95h-1.3zM438 280h1.3v1.95h-1.3zM451 286h1.04v1.04h-1.04zM458 278h1.3v1.04h-1.3zM454 286h1.3v1.3h-1.3zM458 284h1.95v1.3h-1.95zM458 280h1.3v1.95h-1.3zM454 290h1.3v1.95h-1.3zM446 283h1.3v1.3h-1.3zM451 294h1.3v1.3h-1.3zM439 280h1.3v1.3h-1.3zM452 286h1.04v1.95h-1.04zM455 283h1.3v1.3h-1.3zM451 299h1.3v1.04h-1.3zM454 291h1.3v1.04h-1.3zM440 281h1.3v1.3h-1.3zM459 278h1.04v1.3h-1.04zM440 280h1.95v1.04h-1.95zM445 282h1.3v1.95h-1.3zM453 291h1.04v1.04h-1.04zM452 293h1.3v1.3h-1.3zM459 280h1.95v1.3h-1.95zM445 281h1.3v1.04h-1.3zM454 290h1.04v1.95h-1.04zM458 280h1.04v1.3h-1.04zM457 288h1.3v1.3h-1.3zM452 294h1.3v1.3h-1.3zM454 293h1.95v1.3h-1.95zM459 282h1.95v1.3h-1.95zM449 284h1.3v1.04h-1.3zM449 300h1.3v1.3h-1.3zM458 284h1.3v1.95h-1.3zM455 289h1.3v1.3h-1.3zM455 284h1.3v1.3h-1.3zM451 284h1.95v1.04h-1.95zM457 281h1.3v1.95h-1.3zM454 284h1.04v1.3h-1.04zM470 277h1.3v1.04h-1.3zM470 272h1.04v1.95h-1.04zM483 282h1.95v1.3h-1.95zM474 283h1.04v1.04h-1.04zM468 275h1.04v1.04h-1.04zM473 282h1.3v1.95h-1.3zM478 283h1.3v1.04h-1.3zM481 281h1.3v1.3h-1.3zM469 272h1.3v1.3h-1.3zM481 285h1.95v1.95h-1.95zM473 275h1.3v1.3h-1.3zM464 277h1.3v1.3h-1.3zM471 271h1.3v1.95h-1.3zM463 274h1.04v1.04h-1.04zM475 267h1.3v1.95h-1.3zM469 272h1.3v1.3h-1.3zM473 278h1.3v1.3h-1.3zM471 282h1.3v1.3h-1.3zM478 283h1.95v1.95h-1.95zM469 267h1.3v1.3h-1.3zM478 283h1.04v1.95h-1.04zM467 279h1.3v1.04h-1.3zM465 272h1.3v1.04h-1.3zM464 275h1.04v1.04h-1.04zM478 281h1.04v1.04h-1.04zM470 270h1.04v1.95h-1.04zM469 279h1.95v1.04h-1.95zM475 284h1.3v1.3h-1.3zM478 278h1.3v1.95h-1.3zM476 281h1.3v1.95h-1.3zM469 273h1.3v1.3h-1.3zM472 274h1.3v1.3h-1.3zM467 279h1.3v1.3h-1.3zM473 277h1.95v1.3h-1.95zM477 278h1.3v1.04h-1.3zM475 276h1.04v1.3h-1.04zM467 274h1.95v1.3h-1.95zM484 281h1.3v1.95h-1.3zM471 273h1.3v1.04h-1.3zM475 285h1.3v1.95h-1.3zM476 284h1.3v1.3h-1.3zM478 284h1.04v1.95h-1.04zM471 271h1.95v1.3h-1.95zM469 274h1.04v1.95h-1.04zM475 274h1.04v1.95h-1.04zM471 271h1.3v1.3h-1.3zM483 282h1.3v1.3h-1.3zM474 280h1.95v1.95h-1.95zM462 276h1.3v1.3h-1.3zM474 278h1.3v1.3h-1.3zM478 284h1.95v1.04h-1.95zM473 277h1.04v1.3h-1.04zM474 268h1.04v1.3h-1.04zM465 279h1.3v1.3h-1.3zM474 263h1.3v1.3h-1.3zM472 281h1.3v1.3h-1.3zM471 269h1.95v1.3h-1.95zM471 282h1.3v1.3h-1.3zM467 272h1.95v1.3h-1.95zM468 278h1.3v1.04h-1.3zM478 281h1.04v1.04h-1.04zM465 277h1.95v1.3h-1.95zM482 281h1.3v1.3h-1.3zM475 266h1.04v1.04h-1.04zM482 286h1.3v1.3h-1.3zM474 275h1.3v1.3h-1.3zM465 274h1.04v1.04h-1.04zM478 283h1.95v1.3h-1.95zM475 274h1.3v1.95h-1.3zM468 280h1.04v1.95h-1.04zM474 263h1.95v1.3h-1.95zM476 280h1.04v1.04h-1.04zM480 285h1.95v1.3h-1.95zM480 286h1.3v1.04h-1.3zM480 282h1.3v1.3h-1.3zM478 283h1.3v1.3h-1.3zM475 280h1.3v1.04h-1.3zM474 283h1.3v1.3h-1.3zM469 269h1.95v1.3h-1.95zM473 271h1.04v1.3h-1.04zM475 266h1.95v1.3h-1.95zM492 288h1.95v1.3h-1.95zM507 300h1.04v1.3h-1.04zM499 294h1.95v1.3h-1.95zM504 297h1.95v1.3h-1.95zM501 293h1.3v1.3h-1.3zM490 285h1.95v1.95h-1.95zM505 301h1.3v1.95h-1.3zM492 287h1.3v1.3h-1.3zM504 298h1.3v1.3h-1.3zM489 284h1.3v1.3h-1.3zM496 292h1.3v1.3h-1.3zM494 289h1.3v1.95h-1.3zM507 301h1.95v1.3h-1.95zM505 300h1.3v1.95h-1.3zM489 285h1.3v1.04h-1.3zM498 291h1.04v1.3h-1.04zM494 291h1.3v1.3h-1.3zM508 300h1.04v1.95h-1.04zM504 296h1.95v1.3h-1.95zM505 301h1.04v1.04h-1.04zM495 291h1.3v1.04h-1.3zM504 299h1.3v1.04h-1.3zM503 299h1.04v1.3h-1.04zM506 302h1.3v1.3h-1.3zM505 301h1.3v1.3h-1.3zM500 294h1.3v1.95h-1.3zM505 302h1.3v1.3h-1.3zM494 291h1.3v1.3h-1.3zM504 296h1.3v1.04h-1.3zM503 296h1.95v1.3h-1.95zM495 290h1.3v1.04h-1.3zM505 300h1.3v1.3h-1.3zM524 298h1.3v1.04h-1.3zM531 306h1.3v1.3h-1.3zM547 301h1.95v1.3h-1.95zM522 298h1.3v1.04h-1.3zM533 304h1.3v1.3h-1.3zM534 304h1.3v1.3h-1.3zM519 304h1.04v1.3h-1.04zM512 304h1.3v1.04h-1.3zM524 299h1.95v1.95h-1.95zM520 304h1.95v1.3h-1.95zM521 302h1.04v1.95h-1.04zM529 305h1.04v1.3h-1.04zM528 304h1.04v1.04h-1.04zM514 306h1.3v1.95h-1.3zM519 307h1.95v1.3h-1.95zM533 304h1.3v1.3h-1.3zM518 303h1.3v1.95h-1.3zM512 302h1.04v1.04h-1.04zM520 306h1.04v1.04h-1.04zM525 303h1.95v1.95h-1.95zM514 305h1.04v1.3h-1.04zM521 298h1.95v1.3h-1.95zM525 302h1.95v1.3h-1.95zM517 303h1.3v1.95h-1.3zM519 306h1.3v1.95h-1.3zM530 303h1.3v1.95h-1.3zM520 300h1.3v1.3h-1.3zM513 303h1.04v1.95h-1.04zM514 300h1.95v1.3h-1.95zM527 304h1.04v1.04h-1.04zM532 304h1.3v1.95h-1.3zM522 304h1.95v1.95h-1.95zM518 300h1.95v1.3h-1.95zM519 303h1.3v1.3h-1.3zM537 303h1.3v1.95h-1.3zM516 301h1.04v1.3h-1.04zM546 301h1.95v1.95h-1.95zM520 300h1.3v1.3h-1.3zM511 303h1.95v1.95h-1.95zM522 305h1.3v1.3h-1.3zM544 302h1.04v1.3h-1.04zM521 305h1.3v1.95h-1.3zM523 298h1.95v1.3h-1.95zM539 303h1.3v1.3h-1.3zM539 303h1.95v1.95h-1.95zM531 305h1.04v1.3h-1.04zM523 299h1.95v1.04h-1.95zM541 303h1.3v1.3h-1.3zM519 300h1.95v1.95h-1.95zM514 302h1.95v1.04h-1.95zM543 303h1.95v1.95h-1.95zM531 304h1.04v1.04h-1.04zM532 305h1.04v1.3h-1.04zM520 300h1.3v1.3h-1.3zM545 303h1.3v1.3h-1.3zM514 303h1.3v1.3h-1.3zM514 306h1.3v1.3h-1.3zM515 302h1.04v1.3h-1.04zM546 302h1.3v1.04h-1.3zM528 303h1.95v1.3h-1.95zM516 301h1.3v1.3h-1.3zM540 301h1.3v1.3h-1.3zM523 298h1.04v1.04h-1.04zM523 299h1.04v1.3h-1.04zM521 306h1.3v1.04h-1.3zM536 304h1.04v1.3h-1.04zM517 308h1.3v1.3h-1.3zM533 305h1.3v1.3h-1.3zM512 301h1.95v1.3h-1.95zM519 300h1.95v1.04h-1.95zM545 302h1.3v1.3h-1.3zM520 298h1.04v1.95h-1.04zM522 305h1.04v1.3h-1.04zM524 298h1.3v1.95h-1.3zM546 302h1.3v1.04h-1.3zM292 239h1.04v1.3h-1.04zM293 228h1.04v1.3h-1.04zM290 231h1.3v1.3h-1.3zM292 226h1.3v1.3h-1.3zM291 234h1.95v1.3h-1.95zM292 225h1.04v1.95h-1.04zM293 237h1.95v1.95h-1.95zM292 235h1.3v1.04h-1.3zM291 236h1.3v1.3h-1.3zM288 236h1.04v1.95h-1.04zM289 230h1.04v1.95h-1.04zM286 230h1.3v1.04h-1.3zM289 236h1.95v1.3h-1.95zM293 235h1.3v1.04h-1.3zM284 229h1.95v1.04h-1.95zM293 238h1.3v1.3h-1.3zM286 231h1.04v1.04h-1.04zM295 224h1.3v1.3h-1.3zM297 235h1.3v1.95h-1.3zM295 235h1.95v1.3h-1.95zM288 225h1.95v1.3h-1.95zM292 226h1.04v1.3h-1.04zM292 229h1.3v1.95h-1.3zM291 239h1.04v1.04h-1.04zM292 237h1.3v1.3h-1.3zM289 236h1.3v1.04h-1.3zM294 223h1.3v1.3h-1.3zM286 228h1.3v1.3h-1.3zM290 228h1.95v1.3h-1.95zM291 227h1.04v1.3h-1.04zM289 232h1.3v1.95h-1.3zM286 229h1.3v1.3h-1.3zM296 222h1.3v1.3h-1.3zM295 224h1.3v1.3h-1.3zM295 235h1.3v1.3h-1.3zM289 230h1.95v1.04h-1.95zM289 237h1.3v1.95h-1.3zM294 237h1.95v1.3h-1.95zM286 231h1.3v1.04h-1.3zM291 227h1.95v1.3h-1.95zM291 233h1.3v1.95h-1.3zM292 233h1.3v1.95h-1.3zM289 240h1.95v1.3h-1.95zM287 234h1.95v1.3h-1.95zM294 236h1.95v1.95h-1.95zM294 224h1.3v1.95h-1.3zM289 229h1.95v1.04h-1.95zM290 226h1.04v1.3h-1.04zM290 238h1.04v1.3h-1.04zM292 234h1.95v1.3h-1.95zM291 240h1.04v1.95h-1.04zM289 227h1.3v1.3h-1.3zM294 235h1.04v1.04h-1.04zM288 230h1.95v1.3h-1.95zM291 229h1.3v1.95h-1.3zM289 236h1.95v1.3h-1.95zM291 223h1.95v1.95h-1.95zM290 225h1.95v1.3h-1.95zM292 240h1.3v1.95h-1.3zM293 228h1.3v1.95h-1.3zM296 237h1.3v1.95h-1.3zM271 247h1.4v1.12h-1.4zM282 234h1.4v1.4h-1.4zM280 241h2.1v1.4h-2.1zM272 248h1.12v1.12h-1.12zM266 249h1.4v2.1h-1.4zM266 248h1.12v2.1h-1.12zM274 246h1.4v1.12h-1.4zM270 249h1.4v1.12h-1.4zM283 232h2.1v1.4h-2.1zM270 249h1.4v1.12h-1.4zM269 250h1.12v1.12h-1.12zM260 252h1.12v2.1h-1.12zM280 237h1.4v2.1h-1.4zM280 241h1.12v1.4h-1.12zM266 249h1.4v1.4h-1.4zM280 239h2.1v1.4h-2.1zM275 245h1.12v1.12h-1.12zM260 253h1.4v1.12h-1.4zM265 249h2.1v2.1h-2.1zM279 242h1.12v1.12h-1.12zM282 235h1.4v2.1h-1.4zM275 243h1.12v1.4h-1.12zM279 240h1.4v1.12h-1.4zM276 241h1.4v2.1h-1.4zM279 240h1.4v1.4h-1.4zM265 251h1.12v1.12h-1.12zM283 234h1.4v1.4h-1.4zM265 250h1.4v1.12h-1.4zM272 244h1.12v2.1h-1.12zM275 245h2.1v1.12h-2.1zM284 233h1.12v1.4h-1.12zM270 244h1.12v1.4h-1.12zM268 248h1.4v1.4h-1.4zM274 244h2.1v2.1h-2.1zM280 235h2.1v1.4h-2.1zM271 245h2.1v1.4h-2.1zM265 250h2.1v2.1h-2.1zM280 239h2.1v1.12h-2.1zM278 242h1.12v1.4h-1.12zM261 253h1.12v1.4h-1.12zM282 233h2.1v1.4h-2.1zM284 234h1.4v2.1h-1.4zM275 245h1.12v2.1h-1.12zM279 237h1.4v2.1h-1.4zM265 250h2.1v1.4h-2.1zM268 248h1.4v1.4h-1.4zM265 248h2.1v1.4h-2.1zM278 241h2.1v2.1h-2.1zM271 244h1.4v1.4h-1.4zM269 246h1.12v2.1h-1.12zM263 250h1.4v1.12h-1.4zM281 234h1.4v1.12h-1.4zM267 250h1.4v1.4h-1.4zM280 241h1.4v2.1h-1.4zM268 248h1.4v1.4h-1.4zM270 246h2.1v1.4h-2.1zM275 243h1.12v1.4h-1.12zM281 258h1.95v1.04h-1.95zM287 245h1.3v1.04h-1.3zM277 264h1.95v1.04h-1.95zM284 252h1.3v1.95h-1.3zM285 249h1.3v1.3h-1.3zM277 264h1.95v1.3h-1.95zM286 248h1.04v1.3h-1.04zM281 258h1.04v1.3h-1.04zM285 249h1.3v1.3h-1.3zM287 245h1.3v1.3h-1.3zM287 245h1.04v1.3h-1.04zM286 248h1.04v1.3h-1.04zM286 246h1.3v1.3h-1.3zM281 257h1.95v1.3h-1.95zM283 254h1.04v1.3h-1.04zM283 255h1.04v1.3h-1.04zM286 246h1.3v1.04h-1.3zM279 261h1.95v1.3h-1.95zM285 248h1.3v1.95h-1.3zM283 254h1.3v1.3h-1.3zM314 195h1.3v1.3h-1.3zM308 208h1.95v1.3h-1.95zM326 187h1.95v1.3h-1.95zM313 197h1.04v1.3h-1.04zM323 183h1.3v1.3h-1.3zM315 197h1.04v1.04h-1.04zM306 204h1.04v1.3h-1.04zM318 182h1.3v1.3h-1.3zM307 210h1.3v1.04h-1.3zM300 211h1.95v1.95h-1.95zM319 181h1.04v1.3h-1.04zM302 210h1.3v1.04h-1.3zM315 195h1.3v1.3h-1.3zM314 196h1.04v1.04h-1.04zM327 187h1.3v1.3h-1.3zM319 195h1.04v1.3h-1.04zM312 199h1.95v1.3h-1.95zM297 211h1.3v1.3h-1.3zM312 197h1.04v1.95h-1.04zM325 187h1.04v1.3h-1.04zM316 192h1.3v1.95h-1.3zM311 203h1.04v1.3h-1.04zM309 208h1.04v1.95h-1.04zM323 189h1.04v1.3h-1.04zM314 201h1.04v1.3h-1.04zM321 190h1.3v1.3h-1.3zM309 207h1.3v1.3h-1.3zM317 193h1.04v1.3h-1.04zM323 187h1.04v1.95h-1.04zM309 207h1.3v1.3h-1.3zM300 209h1.04v1.95h-1.04zM317 191h1.3v1.3h-1.3zM303 207h1.04v1.95h-1.04zM318 197h1.3v1.3h-1.3zM322 184h1.3v1.95h-1.3zM318 193h1.3v1.04h-1.3zM317 186h1.04v1.3h-1.04zM307 205h1.04v1.95h-1.04zM317 187h1.3v1.3h-1.3zM312 200h1.04v1.04h-1.04zM314 196h1.3v1.3h-1.3zM303 208h1.3v1.95h-1.3zM313 201h1.04v1.3h-1.04zM310 206h1.04v1.04h-1.04zM323 191h1.3v1.04h-1.3zM310 202h1.3v1.95h-1.3zM306 205h1.3v1.3h-1.3zM310 206h1.3v1.3h-1.3zM319 182h1.95v1.04h-1.95zM307 211h1.3v1.3h-1.3zM310 210h1.3v1.04h-1.3zM322 188h1.04v1.04h-1.04zM301 212h1.3v1.04h-1.3zM315 197h1.04v1.3h-1.04zM300 212h1.04v1.3h-1.04zM320 195h1.3v1.04h-1.3zM301 209h1.3v1.04h-1.3zM318 194h1.3v1.3h-1.3zM322 185h1.3v1.3h-1.3zM318 183h1.3v1.3h-1.3zM306 206h1.3v1.04h-1.3zM302 212h1.3v1.3h-1.3zM319 188h1.04v1.95h-1.04zM314 196h1.3v1.95h-1.3zM317 192h1.3v1.04h-1.3zM319 196h1.3v1.3h-1.3zM321 194h1.95v1.3h-1.95zM310 199h1.04v1.95h-1.04zM323 190h1.04v1.95h-1.04zM319 189h1.3v1.04h-1.3zM303 212h1.3v1.04h-1.3zM319 187h1.95v1.04h-1.95zM318 197h1.04v1.95h-1.04zM303 209h1.3v1.04h-1.3zM303 209h1.95v1.04h-1.95zM305 206h1.04v1.04h-1.04zM310 205h1.04v1.3h-1.04zM306 204h1.04v1.3h-1.04zM303 210h1.3v1.04h-1.3zM324 187h1.04v1.3h-1.04zM322 193h1.04v1.3h-1.04zM326 186h1.95v1.3h-1.95zM307 210h1.95v1.95h-1.95zM298 211h1.04v1.3h-1.04zM327 185h1.3v1.3h-1.3zM307 208h1.95v1.3h-1.95zM315 194h1.3v1.3h-1.3zM298 212h1.04v1.04h-1.04zM302 210h1.3v1.04h-1.3zM298 210h1.3v1.04h-1.3zM321 188h1.04v1.3h-1.04zM313 198h1.3v1.3h-1.3zM300 210h1.3v1.3h-1.3zM308 208h1.3v1.95h-1.3zM321 191h1.95v1.3h-1.95zM320 183h1.04v1.95h-1.04zM319 194h1.95v1.95h-1.95zM309 204h1.3v1.04h-1.3zM315 194h1.3v1.04h-1.3zM319 194h1.3v1.04h-1.3zM309 210h1.3v1.95h-1.3zM332 177h1.3v1.04h-1.3zM332 178h1.95v1.95h-1.95zM329 175h1.04v1.3h-1.04zM326 174h1.95v1.3h-1.95zM331 176h1.3v1.04h-1.3zM326 174h1.3v1.95h-1.3zM327 175h1.3v1.95h-1.3zM335 178h1.3v1.95h-1.3zM331 177h1.3v1.04h-1.3zM327 177h1.3v1.3h-1.3zM331 174h1.3v1.3h-1.3zM334 177h1.95v1.3h-1.95zM335 178h1.3v1.3h-1.3zM328 173h1.3v1.95h-1.3zM325 175h1.95v1.3h-1.95zM329 177h1.3v1.3h-1.3zM326 177h1.3v1.95h-1.3zM331 176h1.95v1.3h-1.95zM334 176h1.3v1.3h-1.3zM333 176h1.04v1.3h-1.04zM325 176h1.95v1.3h-1.95zM327 174h1.3v1.3h-1.3zM335 179h1.04v1.3h-1.04zM339 162h1.4v1.4h-1.4zM340 166h1.4v2.1h-1.4zM340 167h2.1v1.4h-2.1zM336 164h2.1v1.12h-2.1zM335 168h1.4v1.4h-1.4zM334 169h2.1v2.1h-2.1zM336 154h1.4v1.12h-1.4zM339 168h2.1v2.1h-2.1zM336 161h1.4v1.4h-1.4zM340 167h2.1v2.1h-2.1zM336 161h1.4v2.1h-1.4zM332 159h1.12v2.1h-1.12zM334 167h2.1v2.1h-2.1zM340 160h1.4v1.4h-1.4zM338 164h1.4v2.1h-1.4zM334 161h2.1v1.12h-2.1zM335 160h2.1v1.12h-2.1zM335 160h1.4v1.12h-1.4zM332 159h1.12v2.1h-1.12zM337 159h1.4v2.1h-1.4zM333 159h2.1v1.4h-2.1zM336 156h1.4v1.4h-1.4zM335 158h2.1v1.4h-2.1zM335 157h2.1v1.12h-2.1zM335 168h1.12v1.4h-1.12zM338 155h1.4v2.1h-1.4zM337 166h1.4v1.4h-1.4zM337 168h2.1v1.4h-2.1zM337 155h1.12v1.4h-1.12zM339 168h1.4v1.4h-1.4zM332 168h2.1v2.1h-2.1zM335 163h1.4v1.12h-1.4zM332 161h2.1v1.4h-2.1zM339 159h1.12v1.4h-1.12zM338 156h1.4v2.1h-1.4zM338 155h1.4v1.12h-1.4zM337 157h1.4v1.4h-1.4zM338 161h1.4v1.4h-1.4zM335 162h1.4v2.1h-1.4zM333 165h2.1v2.1h-2.1zM340 161h2.1v1.4h-2.1zM339 163h1.12v1.12h-1.12zM333 169h2.1v1.4h-2.1zM338 165h2.1v1.4h-2.1zM334 167h2.1v1.4h-2.1zM336 164h1.12v1.12h-1.12zM336 162h1.4v1.4h-1.4zM333 157h1.4v2.1h-1.4zM334 156h1.4v2.1h-1.4zM335 168h2.1v1.4h-2.1zM335 169h1.12v1.4h-1.12zM336 159h1.4v2.1h-1.4zM339 158h1.12v1.12h-1.12zM339 163h1.12v1.4h-1.12zM335 171h2.1v1.12h-2.1zM351 185h1.5v1.5h-1.5zM358 196h1.5v1.5h-1.5zM354 198h1.5v1.2h-1.5zM358 197h1.5v1.2h-1.5zM362 212h1.2v1.5h-1.2zM354 202h1.5v1.2h-1.5zM357 198h1.2v1.5h-1.2zM356 198h1.5v1.2h-1.5zM358 206h1.2v1.5h-1.2zM357 196h2.25v1.2h-2.25zM355 200h1.5v1.5h-1.5zM359 208h1.5v1.5h-1.5zM351 188h1.5v1.2h-1.5zM358 197h1.2v2.25h-1.2zM356 205h1.5v1.2h-1.5zM355 204h1.5v2.25h-1.5zM354 197h1.5v1.2h-1.5zM356 197h2.25v2.25h-2.25zM353 191h2.25v1.5h-2.25zM358 209h1.2v1.5h-1.2zM359 209h2.25v1.5h-2.25zM355 199h1.2v1.5h-1.2zM355 205h1.5v1.5h-1.5zM359 198h1.2v2.25h-1.2zM360 203h2.25v2.25h-2.25zM354 194h1.5v1.2h-1.5zM357 205h1.5v1.5h-1.5zM362 215h1.5v1.5h-1.5zM360 207h1.2v1.2h-1.2zM360 198h1.2v2.25h-1.2zM360 204h1.2v2.25h-1.2zM354 204h1.5v2.25h-1.5zM356 203h1.5v2.25h-1.5zM356 194h1.5v2.25h-1.5zM354 197h1.5v2.25h-1.5zM351 188h1.2v2.25h-1.2zM355 195h1.5v2.25h-1.5zM359 199h2.25v2.25h-2.25zM353 192h1.5v2.25h-1.5zM353 190h1.2v1.5h-1.2zM355 200h1.5v1.5h-1.5zM358 204h1.5v1.5h-1.5zM362 215h1.5v1.5h-1.5zM353 187h1.5v1.2h-1.5zM359 210h1.5v1.5h-1.5zM357 195h2.25v2.25h-2.25zM354 192h2.25v1.5h-2.25zM360 212h2.25v1.2h-2.25zM361 201h1.5v1.5h-1.5zM357 199h1.5v1.5h-1.5zM357 201h1.5v1.5h-1.5zM355 206h2.25v1.5h-2.25zM357 202h1.5v1.2h-1.5zM355 190h1.5v2.25h-1.5zM359 211h2.25v2.25h-2.25zM356 197h1.5v1.2h-1.5zM357 208h2.25v1.5h-2.25zM353 188h1.5v1.2h-1.5zM361 198h1.5v1.5h-1.5zM361 199h1.5v2.25h-1.5zM361 213h2.25v1.5h-2.25zM357 203h1.5v1.5h-1.5zM356 195h1.5v1.2h-1.5zM360 203h1.5v1.5h-1.5zM356 200h2.25v1.2h-2.25zM346 205h1.3v1.04h-1.3zM347 209h1.3v1.04h-1.3zM347 206h1.95v1.04h-1.95zM346 204h1.95v1.3h-1.95zM349 205h1.3v1.04h-1.3zM350 208h1.04v1.04h-1.04zM348 207h1.3v1.3h-1.3zM346 208h1.04v1.3h-1.04zM348 203h1.95v1.3h-1.95zM349 205h1.04v1.3h-1.04zM346 205h1.04v1.3h-1.04zM348 208h1.95v1.3h-1.95zM347 209h1.3v1.3h-1.3zM348 206h1.95v1.95h-1.95zM347 208h1.95v1.95h-1.95zM349 206h1.04v1.04h-1.04zM345 204h1.04v1.95h-1.04zM444 204h1.04v1.04h-1.04zM456 208h1.3v1.3h-1.3zM455 208h1.95v1.95h-1.95zM452 204h1.95v1.3h-1.95zM455 206h1.95v1.3h-1.95zM454 208h1.04v1.3h-1.04zM445 202h1.3v1.3h-1.3zM453 205h1.3v1.3h-1.3zM457 208h1.3v1.04h-1.3zM449 204h1.04v1.3h-1.04zM450 205h1.3v1.04h-1.3zM446 197h1.04v1.3h-1.04zM446 203h1.3v1.3h-1.3zM441 202h1.3v1.04h-1.3zM444 202h1.95v1.95h-1.95zM453 208h1.3v1.04h-1.3zM446 200h1.3v1.95h-1.3zM444 205h1.3v1.04h-1.3zM451 204h1.3v1.04h-1.3zM449 203h1.04v1.95h-1.04zM454 208h1.95v1.04h-1.95zM448 197h1.95v1.3h-1.95zM447 197h1.95v1.04h-1.95zM448 204h1.04v1.95h-1.04zM446 200h1.04v1.3h-1.04zM444 201h1.3v1.3h-1.3zM445 198h1.95v1.04h-1.95zM448 204h1.04v1.3h-1.04zM444 203h1.3v1.3h-1.3zM446 205h1.04v1.3h-1.04zM446 203h1.3v1.3h-1.3zM449 199h1.3v1.3h-1.3zM448 200h1.3v1.3h-1.3zM450 205h1.3v1.3h-1.3zM390 236h1.04v1.3h-1.04zM386 228h1.04v1.3h-1.04zM398 239h1.3v1.3h-1.3zM385 225h1.3v1.3h-1.3zM395 226h1.3v1.3h-1.3zM392 229h1.95v1.3h-1.95zM395 238h1.04v1.3h-1.04zM395 240h1.04v1.04h-1.04zM396 227h1.95v1.04h-1.95zM395 232h1.3v1.3h-1.3zM390 229h1.04v1.04h-1.04zM389 229h1.95v1.3h-1.95zM394 238h1.95v1.04h-1.95zM390 226h1.3v1.3h-1.3zM387 229h1.95v1.04h-1.95zM395 240h1.04v1.95h-1.04zM387 227h1.3v1.04h-1.3zM397 230h1.3v1.3h-1.3zM390 236h1.95v1.04h-1.95zM396 228h1.04v1.3h-1.04zM390 235h1.04v1.95h-1.04zM392 233h1.3v1.95h-1.3zM386 226h1.04v1.3h-1.04zM385 224h1.04v1.3h-1.04zM384 225h1.95v1.04h-1.95zM387 230h1.3v1.04h-1.3zM398 240h1.04v1.95h-1.04zM387 226h1.3v1.3h-1.3zM388 226h1.95v1.04h-1.95zM395 239h1.3v1.04h-1.3zM395 235h1.3v1.95h-1.3zM393 232h1.3v1.04h-1.3zM393 233h1.3v1.3h-1.3zM385 224h1.04v1.04h-1.04zM397 230h1.04v1.3h-1.04zM388 227h1.3v1.3h-1.3zM392 231h1.3v1.04h-1.3zM393 235h1.3v1.3h-1.3zM395 232h1.3v1.04h-1.3zM390 226h1.3v1.04h-1.3zM391 231h1.95v1.3h-1.95zM395 228h1.04v1.95h-1.04zM398 239h1.04v1.3h-1.04zM394 229h1.04v1.04h-1.04zM394 232h1.95v1.04h-1.95zM390 237h1.95v1.95h-1.95zM396 239h1.3v1.3h-1.3zM392 225h1.3v1.95h-1.3zM392 235h1.3v1.3h-1.3zM390 225h1.95v1.04h-1.95zM396 227h1.3v1.04h-1.3zM388 224h1.3v1.3h-1.3zM394 232h1.3v1.95h-1.3zM396 233h1.95v1.04h-1.95zM390 229h1.3v1.3h-1.3zM396 230h1.3v1.95h-1.3zM398 230h1.3v1.95h-1.3zM398 234h1.95v1.3h-1.95zM394 234h1.3v1.3h-1.3zM390 228h1.3v1.3h-1.3zM390 233h1.3v1.3h-1.3zM637 357h1.3v1.3h-1.3zM635 354h1.3v1.95h-1.3zM639 362h1.3v1.95h-1.3zM639 356h1.95v1.3h-1.95zM641 364h1.04v1.3h-1.04zM638 360h1.95v1.95h-1.95zM638 358h1.95v1.3h-1.95zM635 354h1.3v1.04h-1.3zM641 348h1.95v1.04h-1.95zM636 363h1.3v1.3h-1.3zM638 359h1.04v1.3h-1.04zM635 355h1.95v1.3h-1.95zM640 369h1.04v1.04h-1.04zM639 353h1.3v1.95h-1.3zM640 355h1.95v1.3h-1.95zM638 350h1.3v1.04h-1.3zM638 363h1.04v1.04h-1.04zM637 350h1.95v1.3h-1.95zM640 350h1.3v1.3h-1.3zM637 354h1.3v1.3h-1.3zM637 364h1.04v1.3h-1.04zM639 369h1.3v1.3h-1.3zM635 353h1.95v1.3h-1.95zM638 360h1.95v1.95h-1.95zM641 363h1.3v1.3h-1.3zM642 361h1.3v1.95h-1.3zM637 362h1.04v1.04h-1.04zM642 346h1.3v1.3h-1.3zM635 355h1.04v1.95h-1.04zM638 364h1.95v1.04h-1.95zM641 349h1.95v1.95h-1.95zM641 357h1.04v1.3h-1.04zM638 353h1.3v1.3h-1.3zM636 361h1.04v1.04h-1.04zM640 350h1.95v1.04h-1.95zM639 362h1.3v1.95h-1.3zM642 359h1.04v1.04h-1.04zM642 350h1.3v1.3h-1.3zM640 362h1.3v1.95h-1.3zM639 362h1.3v1.3h-1.3zM641 349h1.95v1.3h-1.95zM637 358h1.3v1.04h-1.3zM639 358h1.3v1.04h-1.3zM641 353h1.04v1.95h-1.04zM636 353h1.3v1.3h-1.3zM641 359h1.95v1.3h-1.95zM638 367h1.3v1.3h-1.3zM636 351h1.04v1.3h-1.04zM641 363h1.04v1.3h-1.04zM637 352h1.04v1.3h-1.04zM642 346h1.3v1.95h-1.3zM558 312h1.3v1.95h-1.3zM561 314h1.3v1.04h-1.3zM569 310h1.95v1.3h-1.95zM570 309h1.3v1.04h-1.3zM562 311h1.3v1.95h-1.3zM557 315h1.3v1.04h-1.3zM559 326h1.04v1.04h-1.04zM564 313h1.3v1.3h-1.3zM560 322h1.95v1.95h-1.95zM560 323h1.3v1.3h-1.3zM565 305h1.3v1.3h-1.3zM562 310h1.95v1.95h-1.95zM569 304h1.3v1.3h-1.3zM567 312h1.04v1.95h-1.04zM565 308h1.95v1.04h-1.95zM568 313h1.3v1.3h-1.3zM557 314h1.04v1.04h-1.04zM558 325h1.3v1.95h-1.3zM563 314h1.95v1.04h-1.95zM566 307h1.04v1.04h-1.04zM567 308h1.04v1.3h-1.04zM563 310h1.3v1.04h-1.3zM568 312h1.3v1.3h-1.3zM566 306h1.04v1.95h-1.04zM567 311h1.04v1.3h-1.04zM559 316h1.3v1.95h-1.3zM566 312h1.3v1.95h-1.3zM559 312h1.95v1.04h-1.95zM564 305h1.95v1.3h-1.95zM570 307h1.3v1.04h-1.3zM560 316h1.3v1.95h-1.3zM558 326h1.3v1.3h-1.3zM565 312h1.04v1.95h-1.04zM559 311h1.95v1.3h-1.95zM558 314h1.95v1.3h-1.95zM560 312h1.95v1.3h-1.95zM560 312h1.3v1.95h-1.3zM556 318h1.3v1.95h-1.3zM565 306h1.04v1.95h-1.04zM558 321h1.95v1.04h-1.95zM566 315h1.3v1.95h-1.3zM560 322h1.3v1.95h-1.3zM570 309h1.3v1.3h-1.3zM565 313h1.95v1.95h-1.95zM561 321h1.3v1.04h-1.3zM566 305h1.04v1.04h-1.04zM556 320h1.3v1.3h-1.3zM563 315h1.3v1.04h-1.3zM567 306h1.95v1.3h-1.95zM556 322h1.95v1.3h-1.95zM564 310h1.3v1.04h-1.3zM564 306h1.3v1.95h-1.3zM564 317h1.3v1.95h-1.3zM562 315h1.3v1.3h-1.3zM567 304h1.3v1.95h-1.3zM556 320h1.95v1.04h-1.95zM568 309h1.3v1.04h-1.3zM564 309h1.95v1.95h-1.95zM555 326h1.3v1.04h-1.3zM564 308h1.3v1.04h-1.3zM554 324h1.3v1.04h-1.3zM564 315h1.95v1.3h-1.95zM561 318h1.3v1.3h-1.3zM559 320h1.04v1.95h-1.04zM564 307h1.3v1.3h-1.3zM566 310h1.95v1.3h-1.95zM561 321h1.04v1.04h-1.04zM557 326h1.3v1.3h-1.3zM558 321h1.04v1.3h-1.04zM555 324h1.95v1.95h-1.95zM567 314h1.3v1.3h-1.3zM565 308h1.3v1.95h-1.3zM560 310h1.3v1.3h-1.3zM568 310h1.95v1.3h-1.95zM565 307h1.3v1.3h-1.3zM568 307h1.04v1.3h-1.04zM559 324h1.95v1.3h-1.95zM558 314h1.3v1.04h-1.3zM566 313h1.04v1.95h-1.04zM568 311h1.3v1.3h-1.3zM566 305h1.3v1.3h-1.3zM563 306h1.95v1.3h-1.95zM564 315h1.04v1.3h-1.04zM565 306h1.04v1.95h-1.04zM563 307h1.04v1.3h-1.04zM555 321h1.3v1.95h-1.3zM565 314h1.3v1.3h-1.3zM557 321h1.04v1.3h-1.04zM559 319h1.3v1.04h-1.3zM569 273h1.4v2.1h-1.4zM573 266h1.12v2.1h-1.12zM566 269h1.4v1.4h-1.4zM578 282h2.1v1.12h-2.1zM575 278h1.4v1.12h-1.4zM572 281h1.4v2.1h-1.4zM563 270h1.4v2.1h-1.4zM577 276h1.4v1.12h-1.4zM575 280h2.1v1.12h-2.1zM576 280h2.1v1.4h-2.1zM565 273h2.1v1.4h-2.1zM577 274h1.12v1.4h-1.12zM565 271h2.1v1.12h-2.1zM574 272h1.12v1.4h-1.12zM574 264h1.4v1.4h-1.4zM569 267h1.12v1.4h-1.12zM558 271h1.4v1.12h-1.4zM576 276h1.4v1.4h-1.4zM569 276h1.4v1.4h-1.4zM578 278h1.4v2.1h-1.4zM570 274h1.4v1.4h-1.4zM564 272h1.4v1.4h-1.4zM564 273h2.1v2.1h-2.1zM580 276h2.1v2.1h-2.1zM558 273h2.1v2.1h-2.1zM569 270h1.4v1.4h-1.4zM575 263h1.4v2.1h-1.4zM577 271h1.4v1.4h-1.4zM562 273h2.1v1.4h-2.1zM573 269h1.12v1.4h-1.12zM561 270h1.4v2.1h-1.4zM572 270h2.1v1.12h-2.1zM559 272h1.4v1.4h-1.4zM577 276h1.4v1.4h-1.4zM575 275h1.12v1.12h-1.12zM577 275h1.4v1.4h-1.4zM575 268h1.4v1.12h-1.4zM561 270h1.4v2.1h-1.4zM576 278h1.4v1.4h-1.4zM579 273h1.4v1.4h-1.4zM572 280h2.1v1.4h-2.1zM563 270h1.4v1.4h-1.4zM563 270h1.4v2.1h-1.4zM569 277h2.1v1.4h-2.1zM563 271h1.4v1.12h-1.4zM562 267h1.4v1.4h-1.4zM573 274h2.1v1.4h-2.1zM570 273h1.12v1.4h-1.12zM563 272h1.12v1.12h-1.12zM566 270h1.12v1.4h-1.12zM570 269h1.4v1.4h-1.4zM577 282h1.12v1.4h-1.12zM568 274h1.4v1.4h-1.4zM574 264h1.4v1.4h-1.4zM577 271h1.4v1.4h-1.4zM579 278h1.4v1.12h-1.4zM579 280h1.4v2.1h-1.4zM564 275h1.4v2.1h-1.4zM560 268h1.4v1.4h-1.4zM564 266h2.1v1.4h-2.1zM575 279h2.1v2.1h-2.1zM569 276h1.4v2.1h-1.4zM577 276h2.1v2.1h-2.1z" class="w"/>
</svg>
</body></html>
